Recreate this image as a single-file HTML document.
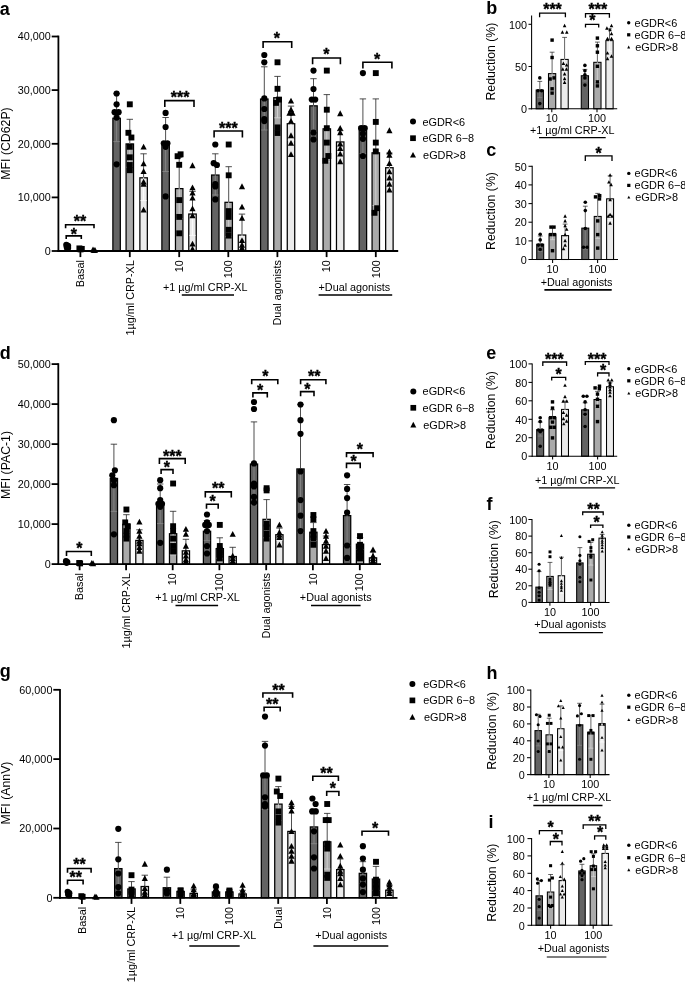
<!DOCTYPE html>
<html lang="en"><head><meta charset="utf-8"><title>Figure</title>
<style>html,body{margin:0;padding:0;background:#fff}svg{display:block}text{font-family:"Liberation Sans", Arial, Helvetica, sans-serif}</style>
</head><body>
<svg width="685" height="990" viewBox="0 0 685 990" font-family='"Liberation Sans", Arial, Helvetica, sans-serif' fill="#000">
<rect width="685" height="990" fill="#fff"/>
<rect x="112.88" y="118.22" width="7.45" height="132.78" fill="#636363" stroke="#000" stroke-width="1.25"/>
<rect x="126.08" y="143.93" width="7.45" height="107.07" fill="#aaaaaa" stroke="#000" stroke-width="1.25"/>
<rect x="139.88" y="177.82" width="7.45" height="73.18" fill="#ebebeb" stroke="#000" stroke-width="1.25"/>
<rect x="161.88" y="145.12" width="7.45" height="105.88" fill="#636363" stroke="#000" stroke-width="1.25"/>
<rect x="175.47" y="188.62" width="7.45" height="62.38" fill="#aaaaaa" stroke="#000" stroke-width="1.25"/>
<rect x="188.78" y="214.03" width="7.45" height="36.97" fill="#ebebeb" stroke="#000" stroke-width="1.25"/>
<rect x="211.58" y="175.03" width="7.45" height="75.97" fill="#636363" stroke="#000" stroke-width="1.25"/>
<rect x="224.97" y="202.32" width="7.45" height="48.68" fill="#aaaaaa" stroke="#000" stroke-width="1.25"/>
<rect x="238.28" y="235.03" width="7.45" height="15.97" fill="#ebebeb" stroke="#000" stroke-width="1.25"/>
<rect x="260.57" y="99.03" width="7.45" height="151.97" fill="#636363" stroke="#000" stroke-width="1.25"/>
<rect x="273.77" y="97.72" width="7.45" height="153.28" fill="#aaaaaa" stroke="#000" stroke-width="1.25"/>
<rect x="287.27" y="123.72" width="7.45" height="127.28" fill="#ebebeb" stroke="#000" stroke-width="1.25"/>
<rect x="309.77" y="105.83" width="7.45" height="145.18" fill="#636363" stroke="#000" stroke-width="1.25"/>
<rect x="323.07" y="128.82" width="7.45" height="122.18" fill="#aaaaaa" stroke="#000" stroke-width="1.25"/>
<rect x="336.47" y="141.93" width="7.45" height="109.07" fill="#ebebeb" stroke="#000" stroke-width="1.25"/>
<rect x="359.17" y="126.83" width="7.45" height="124.17" fill="#636363" stroke="#000" stroke-width="1.25"/>
<rect x="372.07" y="152.82" width="7.45" height="98.18" fill="#aaaaaa" stroke="#000" stroke-width="1.25"/>
<rect x="385.67" y="167.72" width="7.45" height="83.28" fill="#ebebeb" stroke="#000" stroke-width="1.25"/>
<line x1="116.6" y1="117.6" x2="116.6" y2="141.6" stroke="#8a8a8a" stroke-width="0.8" stroke-linecap="butt"/>
<line x1="113.4" y1="141.6" x2="119.8" y2="141.6" stroke="#8a8a8a" stroke-width="0.8" stroke-linecap="butt"/>
<line x1="116.6" y1="93.6" x2="116.6" y2="117.6" stroke="#222" stroke-width="0.8" stroke-linecap="butt"/>
<line x1="113.4" y1="93.6" x2="119.8" y2="93.6" stroke="#222" stroke-width="0.8" stroke-linecap="butt"/>
<line x1="129.8" y1="143.3" x2="129.8" y2="167.3" stroke="#d8d8d8" stroke-width="0.8" stroke-linecap="butt"/>
<line x1="126.6" y1="167.3" x2="133" y2="167.3" stroke="#d8d8d8" stroke-width="0.8" stroke-linecap="butt"/>
<line x1="129.8" y1="119.3" x2="129.8" y2="143.3" stroke="#222" stroke-width="0.8" stroke-linecap="butt"/>
<line x1="126.6" y1="119.3" x2="133" y2="119.3" stroke="#222" stroke-width="0.8" stroke-linecap="butt"/>
<line x1="143.6" y1="177.2" x2="143.6" y2="200.6" stroke="#ffffff" stroke-width="0.8" stroke-linecap="butt"/>
<line x1="140.4" y1="200.6" x2="146.8" y2="200.6" stroke="#ffffff" stroke-width="0.8" stroke-linecap="butt"/>
<line x1="143.6" y1="153.8" x2="143.6" y2="177.2" stroke="#222" stroke-width="0.8" stroke-linecap="butt"/>
<line x1="140.4" y1="153.8" x2="146.8" y2="153.8" stroke="#222" stroke-width="0.8" stroke-linecap="butt"/>
<line x1="165.6" y1="144.5" x2="165.6" y2="171.5" stroke="#8a8a8a" stroke-width="0.8" stroke-linecap="butt"/>
<line x1="162.4" y1="171.5" x2="168.8" y2="171.5" stroke="#8a8a8a" stroke-width="0.8" stroke-linecap="butt"/>
<line x1="165.6" y1="117.5" x2="165.6" y2="144.5" stroke="#222" stroke-width="0.8" stroke-linecap="butt"/>
<line x1="162.4" y1="117.5" x2="168.8" y2="117.5" stroke="#222" stroke-width="0.8" stroke-linecap="butt"/>
<line x1="179.2" y1="188" x2="179.2" y2="218.7" stroke="#d8d8d8" stroke-width="0.8" stroke-linecap="butt"/>
<line x1="176" y1="218.7" x2="182.4" y2="218.7" stroke="#d8d8d8" stroke-width="0.8" stroke-linecap="butt"/>
<line x1="179.2" y1="157.3" x2="179.2" y2="188" stroke="#222" stroke-width="0.8" stroke-linecap="butt"/>
<line x1="176" y1="157.3" x2="182.4" y2="157.3" stroke="#222" stroke-width="0.8" stroke-linecap="butt"/>
<line x1="192.5" y1="213.4" x2="192.5" y2="235.4" stroke="#ffffff" stroke-width="0.8" stroke-linecap="butt"/>
<line x1="189.3" y1="235.4" x2="195.7" y2="235.4" stroke="#ffffff" stroke-width="0.8" stroke-linecap="butt"/>
<line x1="192.5" y1="191.4" x2="192.5" y2="213.4" stroke="#222" stroke-width="0.8" stroke-linecap="butt"/>
<line x1="189.3" y1="191.4" x2="195.7" y2="191.4" stroke="#222" stroke-width="0.8" stroke-linecap="butt"/>
<line x1="215.3" y1="174.4" x2="215.3" y2="195" stroke="#8a8a8a" stroke-width="0.8" stroke-linecap="butt"/>
<line x1="212.1" y1="195" x2="218.5" y2="195" stroke="#8a8a8a" stroke-width="0.8" stroke-linecap="butt"/>
<line x1="215.3" y1="153.8" x2="215.3" y2="174.4" stroke="#222" stroke-width="0.8" stroke-linecap="butt"/>
<line x1="212.1" y1="153.8" x2="218.5" y2="153.8" stroke="#222" stroke-width="0.8" stroke-linecap="butt"/>
<line x1="228.7" y1="201.7" x2="228.7" y2="236.7" stroke="#d8d8d8" stroke-width="0.8" stroke-linecap="butt"/>
<line x1="225.5" y1="236.7" x2="231.9" y2="236.7" stroke="#d8d8d8" stroke-width="0.8" stroke-linecap="butt"/>
<line x1="228.7" y1="166.7" x2="228.7" y2="201.7" stroke="#222" stroke-width="0.8" stroke-linecap="butt"/>
<line x1="225.5" y1="166.7" x2="231.9" y2="166.7" stroke="#222" stroke-width="0.8" stroke-linecap="butt"/>
<line x1="242" y1="234.4" x2="242" y2="250" stroke="#ffffff" stroke-width="0.8" stroke-linecap="butt"/>
<line x1="242" y1="214.1" x2="242" y2="234.4" stroke="#222" stroke-width="0.8" stroke-linecap="butt"/>
<line x1="238.8" y1="214.1" x2="245.2" y2="214.1" stroke="#222" stroke-width="0.8" stroke-linecap="butt"/>
<line x1="264.3" y1="98.4" x2="264.3" y2="130" stroke="#8a8a8a" stroke-width="0.8" stroke-linecap="butt"/>
<line x1="261.1" y1="130" x2="267.5" y2="130" stroke="#8a8a8a" stroke-width="0.8" stroke-linecap="butt"/>
<line x1="264.3" y1="66.8" x2="264.3" y2="98.4" stroke="#222" stroke-width="0.8" stroke-linecap="butt"/>
<line x1="261.1" y1="66.8" x2="267.5" y2="66.8" stroke="#222" stroke-width="0.8" stroke-linecap="butt"/>
<line x1="277.5" y1="97.1" x2="277.5" y2="117.8" stroke="#d8d8d8" stroke-width="0.8" stroke-linecap="butt"/>
<line x1="274.3" y1="117.8" x2="280.7" y2="117.8" stroke="#d8d8d8" stroke-width="0.8" stroke-linecap="butt"/>
<line x1="277.5" y1="76.4" x2="277.5" y2="97.1" stroke="#222" stroke-width="0.8" stroke-linecap="butt"/>
<line x1="274.3" y1="76.4" x2="280.7" y2="76.4" stroke="#222" stroke-width="0.8" stroke-linecap="butt"/>
<line x1="291" y1="123.1" x2="291" y2="140.1" stroke="#ffffff" stroke-width="0.8" stroke-linecap="butt"/>
<line x1="287.8" y1="140.1" x2="294.2" y2="140.1" stroke="#ffffff" stroke-width="0.8" stroke-linecap="butt"/>
<line x1="291" y1="106.1" x2="291" y2="123.1" stroke="#222" stroke-width="0.8" stroke-linecap="butt"/>
<line x1="287.8" y1="106.1" x2="294.2" y2="106.1" stroke="#222" stroke-width="0.8" stroke-linecap="butt"/>
<line x1="313.5" y1="105.2" x2="313.5" y2="131.7" stroke="#8a8a8a" stroke-width="0.8" stroke-linecap="butt"/>
<line x1="310.3" y1="131.7" x2="316.7" y2="131.7" stroke="#8a8a8a" stroke-width="0.8" stroke-linecap="butt"/>
<line x1="313.5" y1="78.7" x2="313.5" y2="105.2" stroke="#222" stroke-width="0.8" stroke-linecap="butt"/>
<line x1="310.3" y1="78.7" x2="316.7" y2="78.7" stroke="#222" stroke-width="0.8" stroke-linecap="butt"/>
<line x1="326.8" y1="128.2" x2="326.8" y2="161.8" stroke="#d8d8d8" stroke-width="0.8" stroke-linecap="butt"/>
<line x1="323.6" y1="161.8" x2="330" y2="161.8" stroke="#d8d8d8" stroke-width="0.8" stroke-linecap="butt"/>
<line x1="326.8" y1="94.6" x2="326.8" y2="128.2" stroke="#222" stroke-width="0.8" stroke-linecap="butt"/>
<line x1="323.6" y1="94.6" x2="330" y2="94.6" stroke="#222" stroke-width="0.8" stroke-linecap="butt"/>
<line x1="340.2" y1="141.3" x2="340.2" y2="151.9" stroke="#ffffff" stroke-width="0.8" stroke-linecap="butt"/>
<line x1="337" y1="151.9" x2="343.4" y2="151.9" stroke="#ffffff" stroke-width="0.8" stroke-linecap="butt"/>
<line x1="340.2" y1="130.7" x2="340.2" y2="141.3" stroke="#222" stroke-width="0.8" stroke-linecap="butt"/>
<line x1="337" y1="130.7" x2="343.4" y2="130.7" stroke="#222" stroke-width="0.8" stroke-linecap="butt"/>
<line x1="362.9" y1="126.2" x2="362.9" y2="153.5" stroke="#8a8a8a" stroke-width="0.8" stroke-linecap="butt"/>
<line x1="359.7" y1="153.5" x2="366.1" y2="153.5" stroke="#8a8a8a" stroke-width="0.8" stroke-linecap="butt"/>
<line x1="362.9" y1="98.9" x2="362.9" y2="126.2" stroke="#222" stroke-width="0.8" stroke-linecap="butt"/>
<line x1="359.7" y1="98.9" x2="366.1" y2="98.9" stroke="#222" stroke-width="0.8" stroke-linecap="butt"/>
<line x1="375.8" y1="152.2" x2="375.8" y2="205.5" stroke="#d8d8d8" stroke-width="0.8" stroke-linecap="butt"/>
<line x1="372.6" y1="205.5" x2="379" y2="205.5" stroke="#d8d8d8" stroke-width="0.8" stroke-linecap="butt"/>
<line x1="375.8" y1="98.9" x2="375.8" y2="152.2" stroke="#222" stroke-width="0.8" stroke-linecap="butt"/>
<line x1="372.6" y1="98.9" x2="379" y2="98.9" stroke="#222" stroke-width="0.8" stroke-linecap="butt"/>
<line x1="389.4" y1="167.1" x2="389.4" y2="181.1" stroke="#ffffff" stroke-width="0.8" stroke-linecap="butt"/>
<line x1="386.2" y1="181.1" x2="392.6" y2="181.1" stroke="#ffffff" stroke-width="0.8" stroke-linecap="butt"/>
<line x1="389.4" y1="153.1" x2="389.4" y2="167.1" stroke="#222" stroke-width="0.8" stroke-linecap="butt"/>
<line x1="386.2" y1="153.1" x2="392.6" y2="153.1" stroke="#222" stroke-width="0.8" stroke-linecap="butt"/>
<g fill="#000">
<circle cx="66.3" cy="244.8" r="3.1"/>
<circle cx="68.1" cy="245.8" r="3.1"/>
<circle cx="66.7" cy="247" r="3.1"/>
<circle cx="68.1" cy="248" r="3.1"/>
<circle cx="67.2" cy="248.6" r="3.1"/>
<rect x="76.45" y="245.46" width="5.89" height="5.89"/>
<rect x="78.86" y="245.96" width="5.89" height="5.89"/>
<rect x="77.66" y="246.46" width="5.89" height="5.89"/>
<path d="M93 246.54L96.1 252.37L89.9 252.37Z"/>
<path d="M95 246.94L98.1 252.77L91.9 252.77Z"/>
<path d="M94 247.24L97.1 253.07L90.9 253.07Z"/>
<circle cx="116.6" cy="93.5" r="3.1"/>
<circle cx="116.6" cy="104.3" r="3.1"/>
<circle cx="114.6" cy="112.2" r="3.1"/>
<circle cx="118.6" cy="112.2" r="3.1"/>
<circle cx="116.6" cy="117.6" r="3.1"/>
<circle cx="116.6" cy="164.3" r="3.1"/>
<rect x="126.86" y="101.36" width="5.89" height="5.89"/>
<rect x="125.46" y="129.86" width="5.89" height="5.89"/>
<rect x="128.46" y="134.56" width="5.89" height="5.89"/>
<rect x="126.86" y="143.86" width="5.89" height="5.89"/>
<rect x="126.86" y="154.36" width="5.89" height="5.89"/>
<rect x="126.86" y="162.06" width="5.89" height="5.89"/>
<rect x="126.86" y="167.25" width="5.89" height="5.89"/>
<path d="M143.6 143.64L146.7 149.47L140.5 149.47Z"/>
<path d="M143.6 160.44L146.7 166.27L140.5 166.27Z"/>
<path d="M143.6 168.24L146.7 174.07L140.5 174.07Z"/>
<path d="M143.6 178.74L146.7 184.57L140.5 184.57Z"/>
<path d="M143.6 181.04L146.7 186.87L140.5 186.87Z"/>
<path d="M143.6 206.74L146.7 212.57L140.5 212.57Z"/>
<circle cx="165.6" cy="112.9" r="3.1"/>
<circle cx="165.6" cy="127" r="3.1"/>
<circle cx="163.8" cy="143.3" r="3.1"/>
<circle cx="167.4" cy="143.3" r="3.1"/>
<circle cx="165.6" cy="146.8" r="3.1"/>
<circle cx="165.6" cy="196.4" r="3.1"/>
<rect x="177.66" y="151.36" width="5.89" height="5.89"/>
<rect x="174.66" y="153.25" width="5.89" height="5.89"/>
<rect x="176.25" y="161.86" width="5.89" height="5.89"/>
<rect x="176.25" y="197.16" width="5.89" height="5.89"/>
<rect x="176.25" y="213.96" width="5.89" height="5.89"/>
<rect x="176.25" y="230.36" width="5.89" height="5.89"/>
<path d="M192.5 162.34L195.6 168.17L189.4 168.17Z"/>
<path d="M192.5 184.54L195.6 190.37L189.4 190.37Z"/>
<path d="M192.5 189.74L195.6 195.57L189.4 195.57Z"/>
<path d="M192.5 194.64L195.6 200.47L189.4 200.47Z"/>
<path d="M192.5 205.54L195.6 211.37L189.4 211.37Z"/>
<path d="M192.5 212.54L195.6 218.37L189.4 218.37Z"/>
<path d="M192.5 240.64L195.6 246.47L189.4 246.47Z"/>
<path d="M192.5 245.84L195.6 251.67L189.4 251.67Z"/>
<circle cx="215.3" cy="144.5" r="3.1"/>
<circle cx="213.7" cy="163.2" r="3.1"/>
<circle cx="216.9" cy="165" r="3.1"/>
<circle cx="215.3" cy="184.2" r="3.1"/>
<circle cx="215.3" cy="186.5" r="3.1"/>
<circle cx="215.3" cy="199.4" r="3.1"/>
<rect x="225.75" y="141.56" width="5.89" height="5.89"/>
<rect x="225.75" y="172.36" width="5.89" height="5.89"/>
<rect x="225.75" y="208.16" width="5.89" height="5.89"/>
<rect x="225.75" y="213.96" width="5.89" height="5.89"/>
<rect x="225.75" y="226.86" width="5.89" height="5.89"/>
<rect x="225.75" y="232.66" width="5.89" height="5.89"/>
<path d="M242 183.34L245.1 189.17L238.9 189.17Z"/>
<path d="M242 203.74L245.1 209.57L238.9 209.57Z"/>
<path d="M242 214.94L245.1 220.77L238.9 220.77Z"/>
<path d="M242 237.14L245.1 242.97L238.9 242.97Z"/>
<path d="M242 241.84L245.1 247.67L238.9 247.67Z"/>
<path d="M242 244.84L245.1 250.67L238.9 250.67Z"/>
<path d="M242 245.84L245.1 251.67L238.9 251.67Z"/>
<circle cx="264.3" cy="55" r="3.1"/>
<circle cx="264.3" cy="62.3" r="3.1"/>
<circle cx="264.3" cy="98.4" r="3.1"/>
<circle cx="264.3" cy="109" r="3.1"/>
<circle cx="264.3" cy="119.1" r="3.1"/>
<circle cx="264.3" cy="121.1" r="3.1"/>
<rect x="274.56" y="59.35" width="5.89" height="5.89"/>
<rect x="274.56" y="85.86" width="5.89" height="5.89"/>
<rect x="276.06" y="96.66" width="5.89" height="5.89"/>
<rect x="273.06" y="99.96" width="5.89" height="5.89"/>
<rect x="274.56" y="124.46" width="5.89" height="5.89"/>
<rect x="274.56" y="130.06" width="5.89" height="5.89"/>
<path d="M291 97.74L294.1 103.57L287.9 103.57Z"/>
<path d="M291 106.54L294.1 112.37L287.9 112.37Z"/>
<path d="M289.5 109.84L292.6 115.67L286.4 115.67Z"/>
<path d="M292.5 109.84L295.6 115.67L289.4 115.67Z"/>
<path d="M291 117.94L294.1 123.77L287.9 123.77Z"/>
<path d="M291 132.34L294.1 138.17L287.9 138.17Z"/>
<path d="M291 139.94L294.1 145.77L287.9 145.77Z"/>
<path d="M291 151.24L294.1 157.07L287.9 157.07Z"/>
<circle cx="313.5" cy="70.6" r="3.1"/>
<circle cx="313.5" cy="89" r="3.1"/>
<circle cx="311.8" cy="99.6" r="3.1"/>
<circle cx="315.2" cy="99.6" r="3.1"/>
<circle cx="313.5" cy="132.5" r="3.1"/>
<circle cx="313.5" cy="139.5" r="3.1"/>
<rect x="323.86" y="67.66" width="5.89" height="5.89"/>
<rect x="323.86" y="106.76" width="5.89" height="5.89"/>
<rect x="323.86" y="125.25" width="5.89" height="5.89"/>
<rect x="323.86" y="139.66" width="5.89" height="5.89"/>
<rect x="325.36" y="153.06" width="5.89" height="5.89"/>
<rect x="322.36" y="157.86" width="5.89" height="5.89"/>
<path d="M340.2 110.34L343.3 116.17L337.1 116.17Z"/>
<path d="M340.2 125.04L343.3 130.87L337.1 130.87Z"/>
<path d="M340.2 129.34L343.3 135.17L337.1 135.17Z"/>
<path d="M340.2 140.64L343.3 146.47L337.1 146.47Z"/>
<path d="M340.2 145.24L343.3 151.07L337.1 151.07Z"/>
<path d="M340.2 150.74L343.3 156.57L337.1 156.57Z"/>
<path d="M340.2 158.34L343.3 164.17L337.1 164.17Z"/>
<circle cx="362.9" cy="73.1" r="3.1"/>
<circle cx="361.2" cy="128.2" r="3.1"/>
<circle cx="364.6" cy="128.2" r="3.1"/>
<circle cx="362.9" cy="133.7" r="3.1"/>
<circle cx="362.9" cy="138.8" r="3.1"/>
<circle cx="362.9" cy="156" r="3.1"/>
<rect x="372.86" y="70.16" width="5.89" height="5.89"/>
<rect x="372.86" y="118.96" width="5.89" height="5.89"/>
<rect x="372.86" y="139.66" width="5.89" height="5.89"/>
<rect x="372.86" y="148.46" width="5.89" height="5.89"/>
<rect x="374.16" y="205.25" width="5.89" height="5.89"/>
<rect x="371.56" y="209.86" width="5.89" height="5.89"/>
<path d="M389.4 127.34L392.5 133.17L386.3 133.17Z"/>
<path d="M389.4 148.74L392.5 154.57L386.3 154.57Z"/>
<path d="M389.4 152.04L392.5 157.87L386.3 157.87Z"/>
<path d="M389.4 160.14L392.5 165.97L386.3 165.97Z"/>
<path d="M389.4 168.44L392.5 174.27L386.3 174.27Z"/>
<path d="M389.4 174.74L392.5 180.57L386.3 180.57Z"/>
<path d="M389.4 181.04L392.5 186.87L386.3 186.87Z"/>
<path d="M389.4 186.64L392.5 192.47L386.3 192.47Z"/>
</g>
<line x1="58.4" y1="35.6" x2="58.4" y2="251.9" stroke="#000" stroke-width="1.8" stroke-linecap="butt"/>
<line x1="57.5" y1="251" x2="398.2" y2="251" stroke="#000" stroke-width="1.8" stroke-linecap="butt"/>
<line x1="51.7" y1="251" x2="58.4" y2="251" stroke="#000" stroke-width="1.8" stroke-linecap="butt"/>
<text x="50.8" y="254.9" font-size="10.8" text-anchor="end">0</text>
<line x1="51.7" y1="197.4" x2="58.4" y2="197.4" stroke="#000" stroke-width="1.8" stroke-linecap="butt"/>
<text x="50.8" y="201.3" font-size="10.8" text-anchor="end">10,000</text>
<line x1="51.7" y1="143.8" x2="58.4" y2="143.8" stroke="#000" stroke-width="1.8" stroke-linecap="butt"/>
<text x="50.8" y="147.7" font-size="10.8" text-anchor="end">20,000</text>
<line x1="51.7" y1="90.1" x2="58.4" y2="90.1" stroke="#000" stroke-width="1.8" stroke-linecap="butt"/>
<text x="50.8" y="94" font-size="10.8" text-anchor="end">30,000</text>
<line x1="51.7" y1="36.5" x2="58.4" y2="36.5" stroke="#000" stroke-width="1.8" stroke-linecap="butt"/>
<text x="50.8" y="40.4" font-size="10.8" text-anchor="end">40,000</text>
<line x1="80.4" y1="251" x2="80.4" y2="257.1" stroke="#000" stroke-width="1.8" stroke-linecap="butt"/>
<line x1="129.8" y1="251" x2="129.8" y2="257.1" stroke="#000" stroke-width="1.8" stroke-linecap="butt"/>
<line x1="179.2" y1="251" x2="179.2" y2="257.1" stroke="#000" stroke-width="1.8" stroke-linecap="butt"/>
<line x1="228.3" y1="251" x2="228.3" y2="257.1" stroke="#000" stroke-width="1.8" stroke-linecap="butt"/>
<line x1="277.4" y1="251" x2="277.4" y2="257.1" stroke="#000" stroke-width="1.8" stroke-linecap="butt"/>
<line x1="326.6" y1="251" x2="326.6" y2="257.1" stroke="#000" stroke-width="1.8" stroke-linecap="butt"/>
<line x1="375.8" y1="251" x2="375.8" y2="257.1" stroke="#000" stroke-width="1.8" stroke-linecap="butt"/>
<path d="M65.6 228.3V224.7H94V228.3" fill="none" stroke="#000" stroke-width="1.6"/>
<text x="80.1" y="227.22" font-size="16" text-anchor="middle" font-weight="bold" stroke="#000" stroke-width="0.35">**</text>
<path d="M66.2 238.9V235.9H81.3V238.9" fill="none" stroke="#000" stroke-width="1.6"/>
<text x="73.8" y="239.52" font-size="16" text-anchor="middle" font-weight="bold" stroke="#000" stroke-width="0.35">*</text>
<path d="M164.8 107V100.6H194V107" fill="none" stroke="#000" stroke-width="1.6"/>
<text x="180.2" y="103.22" font-size="16" text-anchor="middle" font-weight="bold" stroke="#000" stroke-width="0.35">***</text>
<path d="M214.1 137.4V131H242.4V137.4" fill="none" stroke="#000" stroke-width="1.6"/>
<text x="228.4" y="133.62" font-size="16" text-anchor="middle" font-weight="bold" stroke="#000" stroke-width="0.35">***</text>
<path d="M263.1 48V41.8H291.7V48" fill="none" stroke="#000" stroke-width="1.6"/>
<text x="276.8" y="44.02" font-size="16" text-anchor="middle" font-weight="bold" stroke="#000" stroke-width="0.35">*</text>
<path d="M312.6 64.3V58H340.4V64.3" fill="none" stroke="#000" stroke-width="1.6"/>
<text x="326.3" y="60.42" font-size="16" text-anchor="middle" font-weight="bold" stroke="#000" stroke-width="0.35">*</text>
<path d="M362.9 68.6V62.3H391.9V68.6" fill="none" stroke="#000" stroke-width="1.6"/>
<text x="377" y="64.62" font-size="16" text-anchor="middle" font-weight="bold" stroke="#000" stroke-width="0.35">*</text>
<text x="9.6" y="143.5" font-size="12.3" text-anchor="middle" transform="rotate(-90 9.6 143.5)">MFI (CD62P)</text>
<text x="-0.3" y="14.6" font-size="18" font-weight="bold">a</text>
<g fill="#000">
<circle cx="413" cy="121.6" r="3"/>
<rect x="410.15" y="135.35" width="5.7" height="5.7"/>
<path d="M413 151.94L416 157.58L410 157.58Z"/>
</g>
<text x="422.4" y="125.5" font-size="10.9">eGDR&lt;6</text>
<text x="422.4" y="142.1" font-size="10.9">eGDR 6−8</text>
<text x="423.1" y="158.9" font-size="10.9">eGDR&gt;8</text>
<text x="84.3" y="260.2" font-size="10.8" text-anchor="end" transform="rotate(-90 84.3 260.2)">Basal</text>
<text x="133.7" y="260.2" font-size="10.8" text-anchor="end" transform="rotate(-90 133.7 260.2)">1µg/ml CRP-XL</text>
<text x="183.1" y="260.2" font-size="10.8" text-anchor="end" transform="rotate(-90 183.1 260.2)">10</text>
<text x="232.2" y="260.2" font-size="10.8" text-anchor="end" transform="rotate(-90 232.2 260.2)">100</text>
<text x="281" y="260.2" font-size="10.8" text-anchor="end" transform="rotate(-90 281 260.2)">Dual agonists</text>
<text x="330.4" y="260.2" font-size="10.8" text-anchor="end" transform="rotate(-90 330.4 260.2)">10</text>
<text x="379.6" y="260.2" font-size="10.8" text-anchor="end" transform="rotate(-90 379.6 260.2)">100</text>
<text x="205.2" y="291.1" font-size="10.8" text-anchor="middle">+1 µg/ml CRP-XL</text>
<line x1="181.8" y1="294.9" x2="234" y2="294.9" stroke="#000" stroke-width="1.5" stroke-linecap="butt"/>
<text x="354.4" y="291.1" font-size="10.8" text-anchor="middle">+Dual agonists</text>
<line x1="318.6" y1="294.9" x2="392.2" y2="294.9" stroke="#000" stroke-width="1.5" stroke-linecap="butt"/>
<rect x="536.17" y="90.03" width="7.25" height="18.77" fill="#636363" stroke="#000" stroke-width="1.05"/>
<rect x="548.48" y="73.62" width="7.25" height="35.18" fill="#aaaaaa" stroke="#000" stroke-width="1.05"/>
<rect x="560.98" y="59.42" width="7.25" height="49.38" fill="#ebebeb" stroke="#000" stroke-width="1.05"/>
<rect x="581.27" y="75.73" width="7.25" height="33.07" fill="#636363" stroke="#000" stroke-width="1.05"/>
<rect x="593.77" y="62.32" width="7.25" height="46.48" fill="#aaaaaa" stroke="#000" stroke-width="1.05"/>
<rect x="605.88" y="40.62" width="7.25" height="68.17" fill="#ebebeb" stroke="#000" stroke-width="1.05"/>
<line x1="539.8" y1="89.5" x2="539.8" y2="97.6" stroke="#8a8a8a" stroke-width="0.7" stroke-linecap="butt"/>
<line x1="537.4" y1="97.6" x2="542.2" y2="97.6" stroke="#8a8a8a" stroke-width="0.7" stroke-linecap="butt"/>
<line x1="539.8" y1="81.4" x2="539.8" y2="89.5" stroke="#222" stroke-width="0.7" stroke-linecap="butt"/>
<line x1="537.4" y1="81.4" x2="542.2" y2="81.4" stroke="#222" stroke-width="0.7" stroke-linecap="butt"/>
<line x1="552.1" y1="73.1" x2="552.1" y2="94" stroke="#d8d8d8" stroke-width="0.7" stroke-linecap="butt"/>
<line x1="549.7" y1="94" x2="554.5" y2="94" stroke="#d8d8d8" stroke-width="0.7" stroke-linecap="butt"/>
<line x1="552.1" y1="52.2" x2="552.1" y2="73.1" stroke="#222" stroke-width="0.7" stroke-linecap="butt"/>
<line x1="549.7" y1="52.2" x2="554.5" y2="52.2" stroke="#222" stroke-width="0.7" stroke-linecap="butt"/>
<line x1="564.6" y1="58.9" x2="564.6" y2="80.4" stroke="#ffffff" stroke-width="0.7" stroke-linecap="butt"/>
<line x1="562.2" y1="80.4" x2="567" y2="80.4" stroke="#ffffff" stroke-width="0.7" stroke-linecap="butt"/>
<line x1="564.6" y1="37.4" x2="564.6" y2="58.9" stroke="#222" stroke-width="0.7" stroke-linecap="butt"/>
<line x1="562.2" y1="37.4" x2="567" y2="37.4" stroke="#222" stroke-width="0.7" stroke-linecap="butt"/>
<line x1="584.9" y1="75.2" x2="584.9" y2="81" stroke="#8a8a8a" stroke-width="0.7" stroke-linecap="butt"/>
<line x1="582.5" y1="81" x2="587.3" y2="81" stroke="#8a8a8a" stroke-width="0.7" stroke-linecap="butt"/>
<line x1="584.9" y1="69.4" x2="584.9" y2="75.2" stroke="#222" stroke-width="0.7" stroke-linecap="butt"/>
<line x1="582.5" y1="69.4" x2="587.3" y2="69.4" stroke="#222" stroke-width="0.7" stroke-linecap="butt"/>
<line x1="597.4" y1="61.8" x2="597.4" y2="81.5" stroke="#d8d8d8" stroke-width="0.7" stroke-linecap="butt"/>
<line x1="595" y1="81.5" x2="599.8" y2="81.5" stroke="#d8d8d8" stroke-width="0.7" stroke-linecap="butt"/>
<line x1="597.4" y1="42.1" x2="597.4" y2="61.8" stroke="#222" stroke-width="0.7" stroke-linecap="butt"/>
<line x1="595" y1="42.1" x2="599.8" y2="42.1" stroke="#222" stroke-width="0.7" stroke-linecap="butt"/>
<line x1="609.5" y1="40.1" x2="609.5" y2="51.3" stroke="#ffffff" stroke-width="0.7" stroke-linecap="butt"/>
<line x1="607.1" y1="51.3" x2="611.9" y2="51.3" stroke="#ffffff" stroke-width="0.7" stroke-linecap="butt"/>
<line x1="609.5" y1="28.9" x2="609.5" y2="40.1" stroke="#222" stroke-width="0.7" stroke-linecap="butt"/>
<line x1="607.1" y1="28.9" x2="611.9" y2="28.9" stroke="#222" stroke-width="0.7" stroke-linecap="butt"/>
<g fill="#000">
<circle cx="539.8" cy="77.9" r="1.8"/>
<circle cx="538" cy="90.7" r="1.8"/>
<circle cx="541.6" cy="90.7" r="1.8"/>
<circle cx="539.8" cy="103.6" r="1.8"/>
<rect x="550.39" y="38.39" width="3.42" height="3.42"/>
<rect x="550.39" y="55.79" width="3.42" height="3.42"/>
<rect x="552.39" y="76.19" width="3.42" height="3.42"/>
<rect x="548.39" y="77.29" width="3.42" height="3.42"/>
<rect x="550.39" y="87.09" width="3.42" height="3.42"/>
<rect x="550.39" y="91.39" width="3.42" height="3.42"/>
<path d="M564.6 23.86L566.4 27.25L562.8 27.25Z"/>
<path d="M562.4 30.26L564.2 33.65L560.6 33.65Z"/>
<path d="M566.8 30.26L568.6 33.65L565 33.65Z"/>
<path d="M563.4 61.56L565.2 64.95L561.6 64.95Z"/>
<path d="M566.6 63.16L568.4 66.55L564.8 66.55Z"/>
<path d="M562.8 67.26L564.6 70.65L561 70.65Z"/>
<path d="M566.4 67.26L568.2 70.65L564.6 70.65Z"/>
<path d="M564.6 72.06L566.4 75.45L562.8 75.45Z"/>
<path d="M564.6 76.86L566.4 80.25L562.8 80.25Z"/>
<path d="M564.6 80.56L566.4 83.95L562.8 83.95Z"/>
<circle cx="584.9" cy="65.4" r="1.8"/>
<circle cx="584.9" cy="70.7" r="1.8"/>
<circle cx="584.9" cy="74.7" r="1.8"/>
<circle cx="584.9" cy="77.9" r="1.8"/>
<circle cx="584.9" cy="85.1" r="1.8"/>
<rect x="595.69" y="36.39" width="3.42" height="3.42"/>
<rect x="595.69" y="44.09" width="3.42" height="3.42"/>
<rect x="595.69" y="50.49" width="3.42" height="3.42"/>
<rect x="595.69" y="64.59" width="3.42" height="3.42"/>
<rect x="595.69" y="80.19" width="3.42" height="3.42"/>
<rect x="595.69" y="84.19" width="3.42" height="3.42"/>
<path d="M611.5 23.86L613.3 27.25L609.7 27.25Z"/>
<path d="M606.9 26.26L608.7 29.65L605.1 29.65Z"/>
<path d="M610 27.86L611.8 31.25L608.2 31.25Z"/>
<path d="M611.5 31.86L613.3 35.25L609.7 35.25Z"/>
<path d="M607.5 36.66L609.3 40.05L605.7 40.05Z"/>
<path d="M611.5 36.66L613.3 40.05L609.7 40.05Z"/>
<path d="M607.5 51.16L609.3 54.55L605.7 54.55Z"/>
<path d="M611.5 54.36L613.3 57.75L609.7 57.75Z"/>
<path d="M607.5 56.76L609.3 60.15L605.7 60.15Z"/>
</g>
<line x1="531.6" y1="15.47" x2="531.6" y2="109.33" stroke="#000" stroke-width="1.05" stroke-linecap="butt"/>
<line x1="531.08" y1="108.8" x2="617.2" y2="108.8" stroke="#000" stroke-width="1.05" stroke-linecap="butt"/>
<line x1="528.48" y1="108.8" x2="531.6" y2="108.8" stroke="#000" stroke-width="1.05" stroke-linecap="butt"/>
<text x="527.08" y="113" font-size="10.8" text-anchor="end">0</text>
<line x1="528.48" y1="66.5" x2="531.6" y2="66.5" stroke="#000" stroke-width="1.05" stroke-linecap="butt"/>
<text x="527.08" y="70.7" font-size="10.8" text-anchor="end">50</text>
<line x1="528.48" y1="24.3" x2="531.6" y2="24.3" stroke="#000" stroke-width="1.05" stroke-linecap="butt"/>
<text x="527.08" y="28.5" font-size="10.8" text-anchor="end">100</text>
<line x1="551.8" y1="108.8" x2="551.8" y2="112.23" stroke="#000" stroke-width="1.05" stroke-linecap="butt"/>
<line x1="597" y1="108.8" x2="597" y2="112.23" stroke="#000" stroke-width="1.05" stroke-linecap="butt"/>
<path d="M539.6 17.2V13.2H565.4V17.2" fill="none" stroke="#000" stroke-width="1.3"/>
<text x="552.5" y="14.52" font-size="16" text-anchor="middle" font-weight="bold" stroke="#000" stroke-width="0.35">***</text>
<path d="M585.5 17.7V13.7H609.4V17.7" fill="none" stroke="#000" stroke-width="1.3"/>
<text x="597.8" y="15.12" font-size="16" text-anchor="middle" font-weight="bold" stroke="#000" stroke-width="0.35">***</text>
<path d="M585.5 27.6V24.4H598.7V27.6" fill="none" stroke="#000" stroke-width="1.3"/>
<text x="592.3" y="26.22" font-size="16" text-anchor="middle" font-weight="bold" stroke="#000" stroke-width="0.35">*</text>
<text x="495.5" y="61.6" font-size="12.3" text-anchor="middle" transform="rotate(-90 495.5 61.6)">Reduction (%)</text>
<text x="486.2" y="14.2" font-size="18" font-weight="bold">b</text>
<g fill="#000">
<circle cx="628.7" cy="22.8" r="1.7"/>
<rect x="627.09" y="33.18" width="3.23" height="3.23"/>
<path d="M628.7 45.54L630.23 48.42L627.17 48.42Z"/>
</g>
<text x="634.6" y="26.7" font-size="10.9">eGDR&lt;6</text>
<text x="634.6" y="38.7" font-size="10.9">eGDR 6−8</text>
<text x="635.3" y="51" font-size="10.9">eGDR&gt;8</text>
<text x="551.8" y="122" font-size="10.8" text-anchor="middle">10</text>
<text x="597" y="122" font-size="10.8" text-anchor="middle">100</text>
<text x="572.2" y="133.5" font-size="10.8" text-anchor="middle">+1 µg/ml CRP-XL</text>
<line x1="539" y1="137.7" x2="605.7" y2="137.7" stroke="#000" stroke-width="1.2" stroke-linecap="butt"/>
<rect x="536.73" y="244.22" width="6.95" height="15.28" fill="#636363" stroke="#000" stroke-width="1.05"/>
<rect x="549.02" y="233.93" width="6.95" height="25.57" fill="#aaaaaa" stroke="#000" stroke-width="1.05"/>
<rect x="561.62" y="235.62" width="6.95" height="23.88" fill="#ebebeb" stroke="#000" stroke-width="1.05"/>
<rect x="581.82" y="228.12" width="6.95" height="31.38" fill="#636363" stroke="#000" stroke-width="1.05"/>
<rect x="594.23" y="216.43" width="6.95" height="43.07" fill="#aaaaaa" stroke="#000" stroke-width="1.05"/>
<rect x="606.62" y="198.83" width="6.95" height="60.67" fill="#ebebeb" stroke="#000" stroke-width="1.05"/>
<line x1="540.2" y1="243.7" x2="540.2" y2="251.4" stroke="#8a8a8a" stroke-width="0.7" stroke-linecap="butt"/>
<line x1="537.8" y1="251.4" x2="542.6" y2="251.4" stroke="#8a8a8a" stroke-width="0.7" stroke-linecap="butt"/>
<line x1="540.2" y1="236" x2="540.2" y2="243.7" stroke="#222" stroke-width="0.7" stroke-linecap="butt"/>
<line x1="537.8" y1="236" x2="542.6" y2="236" stroke="#222" stroke-width="0.7" stroke-linecap="butt"/>
<line x1="552.5" y1="233.4" x2="552.5" y2="239.7" stroke="#d8d8d8" stroke-width="0.7" stroke-linecap="butt"/>
<line x1="550.1" y1="239.7" x2="554.9" y2="239.7" stroke="#d8d8d8" stroke-width="0.7" stroke-linecap="butt"/>
<line x1="552.5" y1="227.1" x2="552.5" y2="233.4" stroke="#222" stroke-width="0.7" stroke-linecap="butt"/>
<line x1="550.1" y1="227.1" x2="554.9" y2="227.1" stroke="#222" stroke-width="0.7" stroke-linecap="butt"/>
<line x1="565.1" y1="235.1" x2="565.1" y2="246.1" stroke="#ffffff" stroke-width="0.7" stroke-linecap="butt"/>
<line x1="562.7" y1="246.1" x2="567.5" y2="246.1" stroke="#ffffff" stroke-width="0.7" stroke-linecap="butt"/>
<line x1="565.1" y1="224.1" x2="565.1" y2="235.1" stroke="#222" stroke-width="0.7" stroke-linecap="butt"/>
<line x1="562.7" y1="224.1" x2="567.5" y2="224.1" stroke="#222" stroke-width="0.7" stroke-linecap="butt"/>
<line x1="585.3" y1="227.6" x2="585.3" y2="249" stroke="#8a8a8a" stroke-width="0.7" stroke-linecap="butt"/>
<line x1="582.9" y1="249" x2="587.7" y2="249" stroke="#8a8a8a" stroke-width="0.7" stroke-linecap="butt"/>
<line x1="585.3" y1="206.2" x2="585.3" y2="227.6" stroke="#222" stroke-width="0.7" stroke-linecap="butt"/>
<line x1="582.9" y1="206.2" x2="587.7" y2="206.2" stroke="#222" stroke-width="0.7" stroke-linecap="butt"/>
<line x1="597.7" y1="215.9" x2="597.7" y2="238.4" stroke="#d8d8d8" stroke-width="0.7" stroke-linecap="butt"/>
<line x1="595.3" y1="238.4" x2="600.1" y2="238.4" stroke="#d8d8d8" stroke-width="0.7" stroke-linecap="butt"/>
<line x1="597.7" y1="193.4" x2="597.7" y2="215.9" stroke="#222" stroke-width="0.7" stroke-linecap="butt"/>
<line x1="595.3" y1="193.4" x2="600.1" y2="193.4" stroke="#222" stroke-width="0.7" stroke-linecap="butt"/>
<line x1="610.1" y1="198.3" x2="610.1" y2="220.7" stroke="#ffffff" stroke-width="0.7" stroke-linecap="butt"/>
<line x1="607.7" y1="220.7" x2="612.5" y2="220.7" stroke="#ffffff" stroke-width="0.7" stroke-linecap="butt"/>
<line x1="610.1" y1="175.9" x2="610.1" y2="198.3" stroke="#222" stroke-width="0.7" stroke-linecap="butt"/>
<line x1="607.7" y1="175.9" x2="612.5" y2="175.9" stroke="#222" stroke-width="0.7" stroke-linecap="butt"/>
<g fill="#000">
<circle cx="540.2" cy="234.3" r="1.8"/>
<circle cx="540.2" cy="239.9" r="1.8"/>
<circle cx="538.4" cy="245.1" r="1.8"/>
<circle cx="542" cy="245.1" r="1.8"/>
<circle cx="540.2" cy="249.5" r="1.8"/>
<rect x="549.29" y="225.39" width="3.42" height="3.42"/>
<rect x="552.29" y="225.39" width="3.42" height="3.42"/>
<rect x="548.99" y="232.89" width="3.42" height="3.42"/>
<rect x="552.59" y="232.89" width="3.42" height="3.42"/>
<rect x="550.79" y="248.99" width="3.42" height="3.42"/>
<path d="M565.1 214.36L566.9 217.75L563.3 217.75Z"/>
<path d="M565.1 219.06L566.9 222.45L563.3 222.45Z"/>
<path d="M565.1 223.96L566.9 227.35L563.3 227.35Z"/>
<path d="M566.7 227.46L568.5 230.85L564.9 230.85Z"/>
<path d="M565.1 232.76L566.9 236.15L563.3 236.15Z"/>
<path d="M565.1 238.86L566.9 242.25L563.3 242.25Z"/>
<path d="M565.1 243.26L566.9 246.65L563.3 246.65Z"/>
<path d="M563.5 246.76L565.3 250.15L561.7 250.15Z"/>
<circle cx="585.3" cy="202.2" r="1.8"/>
<circle cx="585.3" cy="210.6" r="1.8"/>
<circle cx="585.3" cy="228.5" r="1.8"/>
<circle cx="583.5" cy="247.2" r="1.8"/>
<circle cx="587.1" cy="247.2" r="1.8"/>
<rect x="597.99" y="193.99" width="3.42" height="3.42"/>
<rect x="593.79" y="195.19" width="3.42" height="3.42"/>
<rect x="597.79" y="197.19" width="3.42" height="3.42"/>
<rect x="595.99" y="219.19" width="3.42" height="3.42"/>
<rect x="595.99" y="232.89" width="3.42" height="3.42"/>
<rect x="595.99" y="246.39" width="3.42" height="3.42"/>
<path d="M610.1 173.16L611.9 176.55L608.3 176.55Z"/>
<path d="M608.9 180.16L610.7 183.55L607.1 183.55Z"/>
<path d="M611.1 182.86L612.9 186.25L609.3 186.25Z"/>
<path d="M610.1 197.76L611.9 201.15L608.3 201.15Z"/>
<path d="M610.1 212.66L611.9 216.05L608.3 216.05Z"/>
<path d="M608.3 214.36L610.1 217.75L606.5 217.75Z"/>
<path d="M611.9 214.36L613.7 217.75L610.1 217.75Z"/>
<path d="M610.1 221.36L611.9 224.75L608.3 224.75Z"/>
</g>
<line x1="532.2" y1="165.78" x2="532.2" y2="260.02" stroke="#000" stroke-width="1.05" stroke-linecap="butt"/>
<line x1="531.68" y1="259.5" x2="618" y2="259.5" stroke="#000" stroke-width="1.05" stroke-linecap="butt"/>
<line x1="528.48" y1="259.5" x2="532.2" y2="259.5" stroke="#000" stroke-width="1.05" stroke-linecap="butt"/>
<text x="526.88" y="263.7" font-size="10.8" text-anchor="end">0</text>
<line x1="528.48" y1="240.9" x2="532.2" y2="240.9" stroke="#000" stroke-width="1.05" stroke-linecap="butt"/>
<text x="526.88" y="245.1" font-size="10.8" text-anchor="end">10</text>
<line x1="528.48" y1="222.2" x2="532.2" y2="222.2" stroke="#000" stroke-width="1.05" stroke-linecap="butt"/>
<text x="526.88" y="226.4" font-size="10.8" text-anchor="end">20</text>
<line x1="528.48" y1="203.6" x2="532.2" y2="203.6" stroke="#000" stroke-width="1.05" stroke-linecap="butt"/>
<text x="526.88" y="207.8" font-size="10.8" text-anchor="end">30</text>
<line x1="528.48" y1="184.9" x2="532.2" y2="184.9" stroke="#000" stroke-width="1.05" stroke-linecap="butt"/>
<text x="526.88" y="189.1" font-size="10.8" text-anchor="end">40</text>
<line x1="528.48" y1="166.3" x2="532.2" y2="166.3" stroke="#000" stroke-width="1.05" stroke-linecap="butt"/>
<text x="526.88" y="170.5" font-size="10.8" text-anchor="end">50</text>
<line x1="552.6" y1="259.5" x2="552.6" y2="262.92" stroke="#000" stroke-width="1.05" stroke-linecap="butt"/>
<line x1="597.6" y1="259.5" x2="597.6" y2="262.92" stroke="#000" stroke-width="1.05" stroke-linecap="butt"/>
<path d="M585.3 161V155.8H612V161" fill="none" stroke="#000" stroke-width="1.3"/>
<text x="598.5" y="158.62" font-size="16" text-anchor="middle" font-weight="bold" stroke="#000" stroke-width="0.35">*</text>
<text x="495.4" y="211" font-size="12.3" text-anchor="middle" transform="rotate(-90 495.4 211)">Reduction (%)</text>
<text x="486.2" y="155.6" font-size="18" font-weight="bold">c</text>
<g fill="#000">
<circle cx="628.8" cy="173.4" r="1.7"/>
<rect x="627.18" y="183.78" width="3.23" height="3.23"/>
<path d="M628.8 195.74L630.33 198.62L627.27 198.62Z"/>
</g>
<text x="634.6" y="177.3" font-size="10.9">eGDR&lt;6</text>
<text x="634.6" y="189.3" font-size="10.9">eGDR 6−8</text>
<text x="635.3" y="201.2" font-size="10.9">eGDR&gt;8</text>
<text x="552.6" y="273.1" font-size="10.8" text-anchor="middle">10</text>
<text x="597.6" y="273.1" font-size="10.8" text-anchor="middle">100</text>
<text x="576.6" y="285.8" font-size="10.8" text-anchor="middle">+Dual agonists</text>
<line x1="544.4" y1="289.9" x2="611.7" y2="289.9" stroke="#000" stroke-width="1.6" stroke-linecap="butt"/>
<rect x="110.28" y="478.43" width="7.25" height="85.68" fill="#636363" stroke="#000" stroke-width="1.25"/>
<rect x="122.78" y="524.33" width="7.25" height="39.77" fill="#aaaaaa" stroke="#000" stroke-width="1.25"/>
<rect x="135.78" y="540.42" width="7.25" height="23.68" fill="#ebebeb" stroke="#000" stroke-width="1.25"/>
<rect x="156.57" y="504.43" width="7.25" height="59.68" fill="#636363" stroke="#000" stroke-width="1.25"/>
<rect x="169.47" y="533.73" width="7.25" height="30.38" fill="#aaaaaa" stroke="#000" stroke-width="1.25"/>
<rect x="182.28" y="550.83" width="7.25" height="13.27" fill="#ebebeb" stroke="#000" stroke-width="1.25"/>
<rect x="203.38" y="531.23" width="7.25" height="32.88" fill="#636363" stroke="#000" stroke-width="1.25"/>
<rect x="216.18" y="548.62" width="7.25" height="15.48" fill="#aaaaaa" stroke="#000" stroke-width="1.25"/>
<rect x="229.07" y="556.52" width="7.25" height="7.58" fill="#ebebeb" stroke="#000" stroke-width="1.25"/>
<rect x="250.38" y="464.02" width="7.25" height="100.08" fill="#636363" stroke="#000" stroke-width="1.25"/>
<rect x="262.98" y="519.33" width="7.25" height="44.77" fill="#aaaaaa" stroke="#000" stroke-width="1.25"/>
<rect x="275.77" y="534.73" width="7.25" height="29.38" fill="#ebebeb" stroke="#000" stroke-width="1.25"/>
<rect x="296.88" y="468.93" width="7.25" height="95.18" fill="#636363" stroke="#000" stroke-width="1.25"/>
<rect x="309.77" y="532.23" width="7.25" height="31.88" fill="#aaaaaa" stroke="#000" stroke-width="1.25"/>
<rect x="322.38" y="544.62" width="7.25" height="19.48" fill="#ebebeb" stroke="#000" stroke-width="1.25"/>
<rect x="343.48" y="515.62" width="7.25" height="48.48" fill="#636363" stroke="#000" stroke-width="1.25"/>
<rect x="356.38" y="544.12" width="7.25" height="19.98" fill="#aaaaaa" stroke="#000" stroke-width="1.25"/>
<rect x="369.38" y="557.83" width="7.25" height="6.27" fill="#ebebeb" stroke="#000" stroke-width="1.25"/>
<line x1="113.9" y1="477.8" x2="113.9" y2="511.4" stroke="#8a8a8a" stroke-width="0.8" stroke-linecap="butt"/>
<line x1="110.7" y1="511.4" x2="117.1" y2="511.4" stroke="#8a8a8a" stroke-width="0.8" stroke-linecap="butt"/>
<line x1="113.9" y1="444.2" x2="113.9" y2="477.8" stroke="#222" stroke-width="0.8" stroke-linecap="butt"/>
<line x1="110.7" y1="444.2" x2="117.1" y2="444.2" stroke="#222" stroke-width="0.8" stroke-linecap="butt"/>
<line x1="126.4" y1="523.7" x2="126.4" y2="532.7" stroke="#d8d8d8" stroke-width="0.8" stroke-linecap="butt"/>
<line x1="123.2" y1="532.7" x2="129.6" y2="532.7" stroke="#d8d8d8" stroke-width="0.8" stroke-linecap="butt"/>
<line x1="126.4" y1="514.7" x2="126.4" y2="523.7" stroke="#222" stroke-width="0.8" stroke-linecap="butt"/>
<line x1="123.2" y1="514.7" x2="129.6" y2="514.7" stroke="#222" stroke-width="0.8" stroke-linecap="butt"/>
<line x1="139.4" y1="539.8" x2="139.4" y2="549.8" stroke="#ffffff" stroke-width="0.8" stroke-linecap="butt"/>
<line x1="136.2" y1="549.8" x2="142.6" y2="549.8" stroke="#ffffff" stroke-width="0.8" stroke-linecap="butt"/>
<line x1="139.4" y1="529.8" x2="139.4" y2="539.8" stroke="#222" stroke-width="0.8" stroke-linecap="butt"/>
<line x1="136.2" y1="529.8" x2="142.6" y2="529.8" stroke="#222" stroke-width="0.8" stroke-linecap="butt"/>
<line x1="160.2" y1="503.8" x2="160.2" y2="523.6" stroke="#8a8a8a" stroke-width="0.8" stroke-linecap="butt"/>
<line x1="157" y1="523.6" x2="163.4" y2="523.6" stroke="#8a8a8a" stroke-width="0.8" stroke-linecap="butt"/>
<line x1="160.2" y1="484" x2="160.2" y2="503.8" stroke="#222" stroke-width="0.8" stroke-linecap="butt"/>
<line x1="157" y1="484" x2="163.4" y2="484" stroke="#222" stroke-width="0.8" stroke-linecap="butt"/>
<line x1="173.1" y1="533.1" x2="173.1" y2="554.9" stroke="#d8d8d8" stroke-width="0.8" stroke-linecap="butt"/>
<line x1="169.9" y1="554.9" x2="176.3" y2="554.9" stroke="#d8d8d8" stroke-width="0.8" stroke-linecap="butt"/>
<line x1="173.1" y1="511.3" x2="173.1" y2="533.1" stroke="#222" stroke-width="0.8" stroke-linecap="butt"/>
<line x1="169.9" y1="511.3" x2="176.3" y2="511.3" stroke="#222" stroke-width="0.8" stroke-linecap="butt"/>
<line x1="185.9" y1="550.2" x2="185.9" y2="561.1" stroke="#ffffff" stroke-width="0.8" stroke-linecap="butt"/>
<line x1="182.7" y1="561.1" x2="189.1" y2="561.1" stroke="#ffffff" stroke-width="0.8" stroke-linecap="butt"/>
<line x1="185.9" y1="539.3" x2="185.9" y2="550.2" stroke="#222" stroke-width="0.8" stroke-linecap="butt"/>
<line x1="182.7" y1="539.3" x2="189.1" y2="539.3" stroke="#222" stroke-width="0.8" stroke-linecap="butt"/>
<line x1="207" y1="530.6" x2="207" y2="540.6" stroke="#8a8a8a" stroke-width="0.8" stroke-linecap="butt"/>
<line x1="203.8" y1="540.6" x2="210.2" y2="540.6" stroke="#8a8a8a" stroke-width="0.8" stroke-linecap="butt"/>
<line x1="207" y1="520.6" x2="207" y2="530.6" stroke="#222" stroke-width="0.8" stroke-linecap="butt"/>
<line x1="203.8" y1="520.6" x2="210.2" y2="520.6" stroke="#222" stroke-width="0.8" stroke-linecap="butt"/>
<line x1="219.8" y1="548" x2="219.8" y2="558.2" stroke="#d8d8d8" stroke-width="0.8" stroke-linecap="butt"/>
<line x1="216.6" y1="558.2" x2="223" y2="558.2" stroke="#d8d8d8" stroke-width="0.8" stroke-linecap="butt"/>
<line x1="219.8" y1="537.8" x2="219.8" y2="548" stroke="#222" stroke-width="0.8" stroke-linecap="butt"/>
<line x1="216.6" y1="537.8" x2="223" y2="537.8" stroke="#222" stroke-width="0.8" stroke-linecap="butt"/>
<line x1="232.7" y1="555.9" x2="232.7" y2="563.1" stroke="#ffffff" stroke-width="0.8" stroke-linecap="butt"/>
<line x1="232.7" y1="547.3" x2="232.7" y2="555.9" stroke="#222" stroke-width="0.8" stroke-linecap="butt"/>
<line x1="229.5" y1="547.3" x2="235.9" y2="547.3" stroke="#222" stroke-width="0.8" stroke-linecap="butt"/>
<line x1="254" y1="463.4" x2="254" y2="504.9" stroke="#8a8a8a" stroke-width="0.8" stroke-linecap="butt"/>
<line x1="250.8" y1="504.9" x2="257.2" y2="504.9" stroke="#8a8a8a" stroke-width="0.8" stroke-linecap="butt"/>
<line x1="254" y1="421.9" x2="254" y2="463.4" stroke="#222" stroke-width="0.8" stroke-linecap="butt"/>
<line x1="250.8" y1="421.9" x2="257.2" y2="421.9" stroke="#222" stroke-width="0.8" stroke-linecap="butt"/>
<line x1="266.6" y1="518.7" x2="266.6" y2="537.8" stroke="#d8d8d8" stroke-width="0.8" stroke-linecap="butt"/>
<line x1="263.4" y1="537.8" x2="269.8" y2="537.8" stroke="#d8d8d8" stroke-width="0.8" stroke-linecap="butt"/>
<line x1="266.6" y1="499.6" x2="266.6" y2="518.7" stroke="#222" stroke-width="0.8" stroke-linecap="butt"/>
<line x1="263.4" y1="499.6" x2="269.8" y2="499.6" stroke="#222" stroke-width="0.8" stroke-linecap="butt"/>
<line x1="279.4" y1="534.1" x2="279.4" y2="540.1" stroke="#ffffff" stroke-width="0.8" stroke-linecap="butt"/>
<line x1="276.2" y1="540.1" x2="282.6" y2="540.1" stroke="#ffffff" stroke-width="0.8" stroke-linecap="butt"/>
<line x1="279.4" y1="528.1" x2="279.4" y2="534.1" stroke="#222" stroke-width="0.8" stroke-linecap="butt"/>
<line x1="276.2" y1="528.1" x2="282.6" y2="528.1" stroke="#222" stroke-width="0.8" stroke-linecap="butt"/>
<line x1="300.5" y1="468.3" x2="300.5" y2="532.1" stroke="#8a8a8a" stroke-width="0.8" stroke-linecap="butt"/>
<line x1="297.3" y1="532.1" x2="303.7" y2="532.1" stroke="#8a8a8a" stroke-width="0.8" stroke-linecap="butt"/>
<line x1="300.5" y1="404.5" x2="300.5" y2="468.3" stroke="#222" stroke-width="0.8" stroke-linecap="butt"/>
<line x1="297.3" y1="404.5" x2="303.7" y2="404.5" stroke="#222" stroke-width="0.8" stroke-linecap="butt"/>
<line x1="313.4" y1="531.6" x2="313.4" y2="540.6" stroke="#d8d8d8" stroke-width="0.8" stroke-linecap="butt"/>
<line x1="310.2" y1="540.6" x2="316.6" y2="540.6" stroke="#d8d8d8" stroke-width="0.8" stroke-linecap="butt"/>
<line x1="313.4" y1="522.6" x2="313.4" y2="531.6" stroke="#222" stroke-width="0.8" stroke-linecap="butt"/>
<line x1="310.2" y1="522.6" x2="316.6" y2="522.6" stroke="#222" stroke-width="0.8" stroke-linecap="butt"/>
<line x1="326" y1="544" x2="326" y2="552" stroke="#ffffff" stroke-width="0.8" stroke-linecap="butt"/>
<line x1="322.8" y1="552" x2="329.2" y2="552" stroke="#ffffff" stroke-width="0.8" stroke-linecap="butt"/>
<line x1="326" y1="536" x2="326" y2="544" stroke="#222" stroke-width="0.8" stroke-linecap="butt"/>
<line x1="322.8" y1="536" x2="329.2" y2="536" stroke="#222" stroke-width="0.8" stroke-linecap="butt"/>
<line x1="347.1" y1="515" x2="347.1" y2="545.5" stroke="#8a8a8a" stroke-width="0.8" stroke-linecap="butt"/>
<line x1="343.9" y1="545.5" x2="350.3" y2="545.5" stroke="#8a8a8a" stroke-width="0.8" stroke-linecap="butt"/>
<line x1="347.1" y1="484.5" x2="347.1" y2="515" stroke="#222" stroke-width="0.8" stroke-linecap="butt"/>
<line x1="343.9" y1="484.5" x2="350.3" y2="484.5" stroke="#222" stroke-width="0.8" stroke-linecap="butt"/>
<line x1="360" y1="543.5" x2="360" y2="549.5" stroke="#d8d8d8" stroke-width="0.8" stroke-linecap="butt"/>
<line x1="356.8" y1="549.5" x2="363.2" y2="549.5" stroke="#d8d8d8" stroke-width="0.8" stroke-linecap="butt"/>
<line x1="360" y1="537.5" x2="360" y2="543.5" stroke="#222" stroke-width="0.8" stroke-linecap="butt"/>
<line x1="356.8" y1="537.5" x2="363.2" y2="537.5" stroke="#222" stroke-width="0.8" stroke-linecap="butt"/>
<line x1="373" y1="557.2" x2="373" y2="562.2" stroke="#ffffff" stroke-width="0.8" stroke-linecap="butt"/>
<line x1="369.8" y1="562.2" x2="376.2" y2="562.2" stroke="#ffffff" stroke-width="0.8" stroke-linecap="butt"/>
<line x1="373" y1="552.2" x2="373" y2="557.2" stroke="#222" stroke-width="0.8" stroke-linecap="butt"/>
<line x1="369.8" y1="552.2" x2="376.2" y2="552.2" stroke="#222" stroke-width="0.8" stroke-linecap="butt"/>
<g fill="#000">
<circle cx="66" cy="561.2" r="3.1"/>
<circle cx="67.3" cy="562" r="3.1"/>
<circle cx="66.6" cy="562.8" r="3.1"/>
<rect x="76.25" y="560.05" width="5.89" height="5.89"/>
<rect x="77.16" y="560.45" width="5.89" height="5.89"/>
<path d="M91.8 560.04L94.9 565.87L88.7 565.87Z"/>
<path d="M93.1 560.34L96.2 566.17L90 566.17Z"/>
<circle cx="113.9" cy="420.2" r="3.1"/>
<circle cx="114.9" cy="470.3" r="3.1"/>
<circle cx="112.3" cy="475.3" r="3.1"/>
<circle cx="113.9" cy="480.2" r="3.1"/>
<circle cx="113.9" cy="485.2" r="3.1"/>
<circle cx="113.9" cy="534.3" r="3.1"/>
<rect x="123.46" y="506.56" width="5.89" height="5.89"/>
<rect x="122.26" y="519.45" width="5.89" height="5.89"/>
<rect x="124.66" y="523.25" width="5.89" height="5.89"/>
<rect x="123.46" y="528.15" width="5.89" height="5.89"/>
<rect x="123.46" y="531.85" width="5.89" height="5.89"/>
<rect x="123.46" y="535.65" width="5.89" height="5.89"/>
<path d="M139.4 518.74L142.5 524.57L136.3 524.57Z"/>
<path d="M139.4 527.94L142.5 533.77L136.3 533.77Z"/>
<path d="M139.4 532.94L142.5 538.77L136.3 538.77Z"/>
<path d="M139.4 537.84L142.5 543.67L136.3 543.67Z"/>
<path d="M139.4 540.34L142.5 546.17L136.3 546.17Z"/>
<path d="M139.4 544.14L142.5 549.97L136.3 549.97Z"/>
<path d="M139.4 547.84L142.5 553.67L136.3 553.67Z"/>
<circle cx="160.2" cy="480.2" r="3.1"/>
<circle cx="160.2" cy="488.2" r="3.1"/>
<circle cx="160.2" cy="500.1" r="3.1"/>
<circle cx="158.4" cy="503.8" r="3.1"/>
<circle cx="162" cy="503.8" r="3.1"/>
<circle cx="160.2" cy="506.8" r="3.1"/>
<circle cx="160.2" cy="542.8" r="3.1"/>
<rect x="170.16" y="480.56" width="5.89" height="5.89"/>
<rect x="170.16" y="523.25" width="5.89" height="5.89"/>
<rect x="170.16" y="528.15" width="5.89" height="5.89"/>
<rect x="170.16" y="535.65" width="5.89" height="5.89"/>
<rect x="170.16" y="543.05" width="5.89" height="5.89"/>
<rect x="170.16" y="548.55" width="5.89" height="5.89"/>
<path d="M185.9 525.94L189 531.77L182.8 531.77Z"/>
<path d="M185.9 530.94L189 536.77L182.8 536.77Z"/>
<path d="M185.9 542.84L189 548.67L182.8 548.67Z"/>
<path d="M185.9 549.04L189 554.87L182.8 554.87Z"/>
<path d="M185.9 552.74L189 558.57L182.8 558.57Z"/>
<path d="M185.9 556.54L189 562.37L182.8 562.37Z"/>
<path d="M185.9 558.44L189 564.27L182.8 564.27Z"/>
<circle cx="207" cy="514.5" r="3.1"/>
<circle cx="207" cy="522.4" r="3.1"/>
<circle cx="205.2" cy="524.9" r="3.1"/>
<circle cx="208.8" cy="524.9" r="3.1"/>
<circle cx="207" cy="531.1" r="3.1"/>
<circle cx="207" cy="546" r="3.1"/>
<circle cx="207" cy="553.5" r="3.1"/>
<rect x="216.86" y="521.95" width="5.89" height="5.89"/>
<rect x="216.86" y="543.05" width="5.89" height="5.89"/>
<rect x="216.86" y="546.75" width="5.89" height="5.89"/>
<rect x="216.86" y="549.25" width="5.89" height="5.89"/>
<rect x="216.86" y="551.75" width="5.89" height="5.89"/>
<rect x="216.86" y="555.45" width="5.89" height="5.89"/>
<path d="M232.7 530.94L235.8 536.77L229.6 536.77Z"/>
<path d="M232.7 552.74L235.8 558.57L229.6 558.57Z"/>
<path d="M232.7 555.24L235.8 561.07L229.6 561.07Z"/>
<path d="M232.7 557.74L235.8 563.57L229.6 563.57Z"/>
<path d="M232.7 558.64L235.8 564.47L229.6 564.47Z"/>
<circle cx="254" cy="402" r="3.1"/>
<circle cx="254" cy="409" r="3.1"/>
<circle cx="254" cy="463.4" r="3.1"/>
<circle cx="254" cy="483.5" r="3.1"/>
<circle cx="254" cy="486.4" r="3.1"/>
<circle cx="254" cy="496.9" r="3.1"/>
<circle cx="254" cy="502.6" r="3.1"/>
<rect x="263.66" y="485.25" width="5.89" height="5.89"/>
<rect x="263.66" y="487.45" width="5.89" height="5.89"/>
<rect x="263.66" y="520.75" width="5.89" height="5.89"/>
<rect x="263.66" y="524.45" width="5.89" height="5.89"/>
<rect x="263.66" y="530.65" width="5.89" height="5.89"/>
<rect x="263.66" y="535.65" width="5.89" height="5.89"/>
<path d="M279.4 521.74L282.5 527.57L276.3 527.57Z"/>
<path d="M279.4 529.24L282.5 535.07L276.3 535.07Z"/>
<path d="M279.4 531.64L282.5 537.47L276.3 537.47Z"/>
<path d="M279.4 534.14L282.5 539.97L276.3 539.97Z"/>
<path d="M279.4 541.64L282.5 547.47L276.3 547.47Z"/>
<circle cx="300.5" cy="404.5" r="3.1"/>
<circle cx="300.5" cy="420.2" r="3.1"/>
<circle cx="300.5" cy="433.8" r="3.1"/>
<circle cx="300.5" cy="471.5" r="3.1"/>
<circle cx="300.5" cy="500.1" r="3.1"/>
<circle cx="300.5" cy="515.7" r="3.1"/>
<circle cx="300.5" cy="531.1" r="3.1"/>
<rect x="310.45" y="512.05" width="5.89" height="5.89"/>
<rect x="310.45" y="516.25" width="5.89" height="5.89"/>
<rect x="310.45" y="528.15" width="5.89" height="5.89"/>
<rect x="310.45" y="531.85" width="5.89" height="5.89"/>
<rect x="310.45" y="535.65" width="5.89" height="5.89"/>
<rect x="310.45" y="541.85" width="5.89" height="5.89"/>
<path d="M326 527.94L329.1 533.77L322.9 533.77Z"/>
<path d="M326 532.94L329.1 538.77L322.9 538.77Z"/>
<path d="M326 537.84L329.1 543.67L322.9 543.67Z"/>
<path d="M326 542.84L329.1 548.67L322.9 548.67Z"/>
<path d="M326 547.84L329.1 553.67L322.9 553.67Z"/>
<path d="M326 555.24L329.1 561.07L322.9 561.07Z"/>
<circle cx="347.1" cy="475.3" r="3.1"/>
<circle cx="347.1" cy="488.9" r="3.1"/>
<circle cx="347.1" cy="498.1" r="3.1"/>
<circle cx="347.1" cy="512.5" r="3.1"/>
<circle cx="347.1" cy="545.5" r="3.1"/>
<circle cx="347.1" cy="557.9" r="3.1"/>
<rect x="357.06" y="533.15" width="5.89" height="5.89"/>
<rect x="357.06" y="541.85" width="5.89" height="5.89"/>
<rect x="357.06" y="545.55" width="5.89" height="5.89"/>
<rect x="357.06" y="549.25" width="5.89" height="5.89"/>
<rect x="357.06" y="552.95" width="5.89" height="5.89"/>
<rect x="357.06" y="555.45" width="5.89" height="5.89"/>
<path d="M373 546.54L376.1 552.37L369.9 552.37Z"/>
<path d="M373 552.74L376.1 558.57L369.9 558.57Z"/>
<path d="M373 555.24L376.1 561.07L369.9 561.07Z"/>
<path d="M373 557.24L376.1 563.07L369.9 563.07Z"/>
<path d="M373 558.44L376.1 564.27L369.9 564.27Z"/>
</g>
<line x1="58.3" y1="363.2" x2="58.3" y2="565" stroke="#000" stroke-width="1.8" stroke-linecap="butt"/>
<line x1="57.4" y1="564.1" x2="381" y2="564.1" stroke="#000" stroke-width="1.8" stroke-linecap="butt"/>
<line x1="51.6" y1="564.1" x2="58.3" y2="564.1" stroke="#000" stroke-width="1.8" stroke-linecap="butt"/>
<text x="50.7" y="568" font-size="10.8" text-anchor="end">0</text>
<line x1="51.6" y1="524.1" x2="58.3" y2="524.1" stroke="#000" stroke-width="1.8" stroke-linecap="butt"/>
<text x="50.7" y="528" font-size="10.8" text-anchor="end">10,000</text>
<line x1="51.6" y1="484.1" x2="58.3" y2="484.1" stroke="#000" stroke-width="1.8" stroke-linecap="butt"/>
<text x="50.7" y="488" font-size="10.8" text-anchor="end">20,000</text>
<line x1="51.6" y1="444.1" x2="58.3" y2="444.1" stroke="#000" stroke-width="1.8" stroke-linecap="butt"/>
<text x="50.7" y="448" font-size="10.8" text-anchor="end">30,000</text>
<line x1="51.6" y1="404.1" x2="58.3" y2="404.1" stroke="#000" stroke-width="1.8" stroke-linecap="butt"/>
<text x="50.7" y="408" font-size="10.8" text-anchor="end">40,000</text>
<line x1="51.6" y1="364.1" x2="58.3" y2="364.1" stroke="#000" stroke-width="1.8" stroke-linecap="butt"/>
<text x="50.7" y="368" font-size="10.8" text-anchor="end">50,000</text>
<line x1="79.6" y1="564.1" x2="79.6" y2="570.2" stroke="#000" stroke-width="1.8" stroke-linecap="butt"/>
<line x1="126.1" y1="564.1" x2="126.1" y2="570.2" stroke="#000" stroke-width="1.8" stroke-linecap="butt"/>
<line x1="172.7" y1="564.1" x2="172.7" y2="570.2" stroke="#000" stroke-width="1.8" stroke-linecap="butt"/>
<line x1="219.4" y1="564.1" x2="219.4" y2="570.2" stroke="#000" stroke-width="1.8" stroke-linecap="butt"/>
<line x1="266.2" y1="564.1" x2="266.2" y2="570.2" stroke="#000" stroke-width="1.8" stroke-linecap="butt"/>
<line x1="312.9" y1="564.1" x2="312.9" y2="570.2" stroke="#000" stroke-width="1.8" stroke-linecap="butt"/>
<line x1="359.8" y1="564.1" x2="359.8" y2="570.2" stroke="#000" stroke-width="1.8" stroke-linecap="butt"/>
<path d="M66.5 556V551.5H91.3V556" fill="none" stroke="#000" stroke-width="1.6"/>
<text x="79.4" y="554.12" font-size="16" text-anchor="middle" font-weight="bold" stroke="#000" stroke-width="0.35">*</text>
<path d="M159.4 464.1V458.6H185.2V464.1" fill="none" stroke="#000" stroke-width="1.6"/>
<text x="172.3" y="461.52" font-size="16" text-anchor="middle" font-weight="bold" stroke="#000" stroke-width="0.35">***</text>
<path d="M161.1 474V469.6H173V474" fill="none" stroke="#000" stroke-width="1.6"/>
<text x="166.8" y="473.42" font-size="16" text-anchor="middle" font-weight="bold" stroke="#000" stroke-width="0.35">*</text>
<path d="M205.3 497.6V491.9H231.3V497.6" fill="none" stroke="#000" stroke-width="1.6"/>
<text x="218.2" y="494.32" font-size="16" text-anchor="middle" font-weight="bold" stroke="#000" stroke-width="0.35">**</text>
<path d="M206.5 508.8V504.3H218.2V508.8" fill="none" stroke="#000" stroke-width="1.6"/>
<text x="212.5" y="507.02" font-size="16" text-anchor="middle" font-weight="bold" stroke="#000" stroke-width="0.35">*</text>
<path d="M251.7 384.2V379.7H277.8V384.2" fill="none" stroke="#000" stroke-width="1.6"/>
<text x="265.3" y="382.12" font-size="16" text-anchor="middle" font-weight="bold" stroke="#000" stroke-width="0.35">*</text>
<path d="M252.9 397.6V392.9H267.3V397.6" fill="none" stroke="#000" stroke-width="1.6"/>
<text x="260.1" y="396.32" font-size="16" text-anchor="middle" font-weight="bold" stroke="#000" stroke-width="0.35">*</text>
<path d="M300.6 384.2V379.7H325.9V384.2" fill="none" stroke="#000" stroke-width="1.6"/>
<text x="314.3" y="381.62" font-size="16" text-anchor="middle" font-weight="bold" stroke="#000" stroke-width="0.35">**</text>
<path d="M300.6 396.3V391.6H314V396.3" fill="none" stroke="#000" stroke-width="1.6"/>
<text x="307.3" y="394.52" font-size="16" text-anchor="middle" font-weight="bold" stroke="#000" stroke-width="0.35">*</text>
<path d="M346.5 457.2V452.9H373.1V457.2" fill="none" stroke="#000" stroke-width="1.6"/>
<text x="359.9" y="455.32" font-size="16" text-anchor="middle" font-weight="bold" stroke="#000" stroke-width="0.35">*</text>
<path d="M346.5 468.3V463.4H360.2V468.3" fill="none" stroke="#000" stroke-width="1.6"/>
<text x="353.7" y="466.52" font-size="16" text-anchor="middle" font-weight="bold" stroke="#000" stroke-width="0.35">*</text>
<text x="10.4" y="465" font-size="12.3" text-anchor="middle" transform="rotate(-90 10.4 465)">MFI (PAC-1)</text>
<text x="-0.3" y="359.4" font-size="18" font-weight="bold">d</text>
<g fill="#000">
<circle cx="413.3" cy="391.4" r="3"/>
<rect x="410.45" y="404.95" width="5.7" height="5.7"/>
<path d="M413.3 421.84L416.3 427.48L410.3 427.48Z"/>
</g>
<text x="422.6" y="395.3" font-size="10.9">eGDR&lt;6</text>
<text x="422.6" y="411.7" font-size="10.9">eGDR 6−8</text>
<text x="423.3" y="428.8" font-size="10.9">eGDR&gt;8</text>
<text x="83.4" y="573.2" font-size="10.8" text-anchor="end" transform="rotate(-90 83.4 573.2)">Basal</text>
<text x="129.9" y="573.2" font-size="10.8" text-anchor="end" transform="rotate(-90 129.9 573.2)">1µg/ml CRP-XL</text>
<text x="176.5" y="573.2" font-size="10.8" text-anchor="end" transform="rotate(-90 176.5 573.2)">10</text>
<text x="223.2" y="573.2" font-size="10.8" text-anchor="end" transform="rotate(-90 223.2 573.2)">100</text>
<text x="270" y="573.2" font-size="10.8" text-anchor="end" transform="rotate(-90 270 573.2)">Dual agonists</text>
<text x="316.6" y="573.2" font-size="10.8" text-anchor="end" transform="rotate(-90 316.6 573.2)">10</text>
<text x="363.5" y="573.2" font-size="10.8" text-anchor="end" transform="rotate(-90 363.5 573.2)">100</text>
<text x="197.6" y="600.8" font-size="10.8" text-anchor="middle">+1 µg/ml CRP-XL</text>
<line x1="175.5" y1="605.6" x2="218.1" y2="605.6" stroke="#000" stroke-width="1.5" stroke-linecap="butt"/>
<text x="335.7" y="600.8" font-size="10.8" text-anchor="middle">+Dual agonists</text>
<line x1="311" y1="605.6" x2="360.6" y2="605.6" stroke="#000" stroke-width="1.5" stroke-linecap="butt"/>
<rect x="536.73" y="429.62" width="6.95" height="26.57" fill="#636363" stroke="#000" stroke-width="1.05"/>
<rect x="549.02" y="417.32" width="6.95" height="38.87" fill="#aaaaaa" stroke="#000" stroke-width="1.05"/>
<rect x="561.52" y="409.42" width="6.95" height="46.78" fill="#ebebeb" stroke="#000" stroke-width="1.05"/>
<rect x="581.62" y="409.82" width="6.95" height="46.37" fill="#636363" stroke="#000" stroke-width="1.05"/>
<rect x="594.02" y="399.52" width="6.95" height="56.67" fill="#aaaaaa" stroke="#000" stroke-width="1.05"/>
<rect x="606.52" y="386.72" width="6.95" height="69.47" fill="#ebebeb" stroke="#000" stroke-width="1.05"/>
<line x1="540.2" y1="429.1" x2="540.2" y2="436.1" stroke="#8a8a8a" stroke-width="0.7" stroke-linecap="butt"/>
<line x1="537.8" y1="436.1" x2="542.6" y2="436.1" stroke="#8a8a8a" stroke-width="0.7" stroke-linecap="butt"/>
<line x1="540.2" y1="422.1" x2="540.2" y2="429.1" stroke="#222" stroke-width="0.7" stroke-linecap="butt"/>
<line x1="537.8" y1="422.1" x2="542.6" y2="422.1" stroke="#222" stroke-width="0.7" stroke-linecap="butt"/>
<line x1="552.5" y1="416.8" x2="552.5" y2="423.8" stroke="#d8d8d8" stroke-width="0.7" stroke-linecap="butt"/>
<line x1="550.1" y1="423.8" x2="554.9" y2="423.8" stroke="#d8d8d8" stroke-width="0.7" stroke-linecap="butt"/>
<line x1="552.5" y1="409.8" x2="552.5" y2="416.8" stroke="#222" stroke-width="0.7" stroke-linecap="butt"/>
<line x1="550.1" y1="409.8" x2="554.9" y2="409.8" stroke="#222" stroke-width="0.7" stroke-linecap="butt"/>
<line x1="565" y1="408.9" x2="565" y2="416.7" stroke="#ffffff" stroke-width="0.7" stroke-linecap="butt"/>
<line x1="562.6" y1="416.7" x2="567.4" y2="416.7" stroke="#ffffff" stroke-width="0.7" stroke-linecap="butt"/>
<line x1="565" y1="401.1" x2="565" y2="408.9" stroke="#222" stroke-width="0.7" stroke-linecap="butt"/>
<line x1="562.6" y1="401.1" x2="567.4" y2="401.1" stroke="#222" stroke-width="0.7" stroke-linecap="butt"/>
<line x1="585.1" y1="409.3" x2="585.1" y2="415.8" stroke="#8a8a8a" stroke-width="0.7" stroke-linecap="butt"/>
<line x1="582.7" y1="415.8" x2="587.5" y2="415.8" stroke="#8a8a8a" stroke-width="0.7" stroke-linecap="butt"/>
<line x1="585.1" y1="402.8" x2="585.1" y2="409.3" stroke="#222" stroke-width="0.7" stroke-linecap="butt"/>
<line x1="582.7" y1="402.8" x2="587.5" y2="402.8" stroke="#222" stroke-width="0.7" stroke-linecap="butt"/>
<line x1="597.5" y1="399" x2="597.5" y2="406.6" stroke="#d8d8d8" stroke-width="0.7" stroke-linecap="butt"/>
<line x1="595.1" y1="406.6" x2="599.9" y2="406.6" stroke="#d8d8d8" stroke-width="0.7" stroke-linecap="butt"/>
<line x1="597.5" y1="391.4" x2="597.5" y2="399" stroke="#222" stroke-width="0.7" stroke-linecap="butt"/>
<line x1="595.1" y1="391.4" x2="599.9" y2="391.4" stroke="#222" stroke-width="0.7" stroke-linecap="butt"/>
<line x1="610" y1="386.2" x2="610" y2="389.7" stroke="#ffffff" stroke-width="0.7" stroke-linecap="butt"/>
<line x1="607.6" y1="389.7" x2="612.4" y2="389.7" stroke="#ffffff" stroke-width="0.7" stroke-linecap="butt"/>
<line x1="610" y1="382.7" x2="610" y2="386.2" stroke="#222" stroke-width="0.7" stroke-linecap="butt"/>
<line x1="607.6" y1="382.7" x2="612.4" y2="382.7" stroke="#222" stroke-width="0.7" stroke-linecap="butt"/>
<g fill="#000">
<circle cx="540.2" cy="417.7" r="1.8"/>
<circle cx="540.2" cy="421.6" r="1.8"/>
<circle cx="538.4" cy="430" r="1.8"/>
<circle cx="542" cy="430" r="1.8"/>
<circle cx="540.2" cy="431.7" r="1.8"/>
<circle cx="540.2" cy="446.3" r="1.8"/>
<rect x="550.79" y="400.19" width="3.42" height="3.42"/>
<rect x="550.79" y="406.39" width="3.42" height="3.42"/>
<rect x="548.99" y="415.99" width="3.42" height="3.42"/>
<rect x="552.59" y="415.99" width="3.42" height="3.42"/>
<rect x="550.79" y="420.39" width="3.42" height="3.42"/>
<rect x="548.99" y="425.59" width="3.42" height="3.42"/>
<rect x="552.59" y="425.59" width="3.42" height="3.42"/>
<rect x="550.79" y="436.19" width="3.42" height="3.42"/>
<path d="M565 383.46L566.8 386.85L563.2 386.85Z"/>
<path d="M565 394.86L566.8 398.25L563.2 398.25Z"/>
<path d="M563.2 399.26L565 402.65L561.4 402.65Z"/>
<path d="M566.8 399.26L568.6 402.65L565 402.65Z"/>
<path d="M563.4 410.66L565.2 414.05L561.6 414.05Z"/>
<path d="M566.6 413.26L568.4 416.65L564.8 416.65Z"/>
<path d="M563.4 416.76L565.2 420.15L561.6 420.15Z"/>
<path d="M566.6 419.36L568.4 422.75L564.8 422.75Z"/>
<path d="M563.8 421.96L565.6 425.35L562 425.35Z"/>
<circle cx="583.3" cy="396.2" r="1.8"/>
<circle cx="586.9" cy="396.2" r="1.8"/>
<circle cx="585.1" cy="401.9" r="1.8"/>
<circle cx="585.1" cy="409.8" r="1.8"/>
<circle cx="585.1" cy="414.2" r="1.8"/>
<circle cx="585.1" cy="426.5" r="1.8"/>
<rect x="597.79" y="384.49" width="3.42" height="3.42"/>
<rect x="593.39" y="386.19" width="3.42" height="3.42"/>
<rect x="597.59" y="387.09" width="3.42" height="3.42"/>
<rect x="595.79" y="392.39" width="3.42" height="3.42"/>
<rect x="595.79" y="397.59" width="3.42" height="3.42"/>
<rect x="595.79" y="404.59" width="3.42" height="3.42"/>
<rect x="595.79" y="419.89" width="3.42" height="3.42"/>
<path d="M608.2 378.16L610 381.55L606.4 381.55Z"/>
<path d="M611.8 378.16L613.6 381.55L610 381.55Z"/>
<path d="M610 380.86L611.8 384.25L608.2 384.25Z"/>
<path d="M610 382.56L611.8 385.95L608.2 385.95Z"/>
<path d="M610 385.16L611.8 388.55L608.2 388.55Z"/>
<path d="M610 387.86L611.8 391.25L608.2 391.25Z"/>
<path d="M610 390.46L611.8 393.85L608.2 393.85Z"/>
<path d="M610 393.96L611.8 397.35L608.2 397.35Z"/>
</g>
<line x1="532.2" y1="363.38" x2="532.2" y2="456.72" stroke="#000" stroke-width="1.05" stroke-linecap="butt"/>
<line x1="531.68" y1="456.2" x2="617.2" y2="456.2" stroke="#000" stroke-width="1.05" stroke-linecap="butt"/>
<line x1="528.48" y1="456.2" x2="532.2" y2="456.2" stroke="#000" stroke-width="1.05" stroke-linecap="butt"/>
<text x="527.38" y="460.4" font-size="10.8" text-anchor="end">0</text>
<line x1="528.48" y1="437.7" x2="532.2" y2="437.7" stroke="#000" stroke-width="1.05" stroke-linecap="butt"/>
<text x="527.38" y="441.9" font-size="10.8" text-anchor="end">20</text>
<line x1="528.48" y1="419.3" x2="532.2" y2="419.3" stroke="#000" stroke-width="1.05" stroke-linecap="butt"/>
<text x="527.38" y="423.5" font-size="10.8" text-anchor="end">40</text>
<line x1="528.48" y1="400.8" x2="532.2" y2="400.8" stroke="#000" stroke-width="1.05" stroke-linecap="butt"/>
<text x="527.38" y="405" font-size="10.8" text-anchor="end">60</text>
<line x1="528.48" y1="382.4" x2="532.2" y2="382.4" stroke="#000" stroke-width="1.05" stroke-linecap="butt"/>
<text x="527.38" y="386.6" font-size="10.8" text-anchor="end">80</text>
<line x1="528.48" y1="363.9" x2="532.2" y2="363.9" stroke="#000" stroke-width="1.05" stroke-linecap="butt"/>
<text x="527.38" y="368.1" font-size="10.8" text-anchor="end">100</text>
<line x1="552.6" y1="456.2" x2="552.6" y2="459.62" stroke="#000" stroke-width="1.05" stroke-linecap="butt"/>
<line x1="597.6" y1="456.2" x2="597.6" y2="459.62" stroke="#000" stroke-width="1.05" stroke-linecap="butt"/>
<path d="M542.8 366V362H566.6V366" fill="none" stroke="#000" stroke-width="1.3"/>
<text x="554.3" y="365.12" font-size="16" text-anchor="middle" font-weight="bold" stroke="#000" stroke-width="0.35">***</text>
<path d="M551.7 380.6V377.4H565.7V380.6" fill="none" stroke="#000" stroke-width="1.3"/>
<text x="558.7" y="379.82" font-size="16" text-anchor="middle" font-weight="bold" stroke="#000" stroke-width="0.35">*</text>
<path d="M585.3 365.1V361.6H609V365.1" fill="none" stroke="#000" stroke-width="1.3"/>
<text x="597.1" y="364.62" font-size="16" text-anchor="middle" font-weight="bold" stroke="#000" stroke-width="0.35">***</text>
<path d="M597.6 376.5V373H609V376.5" fill="none" stroke="#000" stroke-width="1.3"/>
<text x="603.2" y="375.62" font-size="16" text-anchor="middle" font-weight="bold" stroke="#000" stroke-width="0.35">*</text>
<text x="495" y="410.1" font-size="12.3" text-anchor="middle" transform="rotate(-90 495 410.1)">Reduction (%)</text>
<text x="486.2" y="358.5" font-size="18" font-weight="bold">e</text>
<g fill="#000">
<circle cx="628.8" cy="368.8" r="1.7"/>
<rect x="627.18" y="379.19" width="3.23" height="3.23"/>
<path d="M628.8 391.64L630.33 394.52L627.27 394.52Z"/>
</g>
<text x="634.6" y="372.7" font-size="10.9">eGDR&lt;6</text>
<text x="634.6" y="384.7" font-size="10.9">eGDR 6−8</text>
<text x="635.3" y="397.1" font-size="10.9">eGDR&gt;8</text>
<text x="552.6" y="470.3" font-size="10.8" text-anchor="middle">10</text>
<text x="597.6" y="470.3" font-size="10.8" text-anchor="middle">100</text>
<text x="577.2" y="483.9" font-size="10.8" text-anchor="middle">+1 µg/ml CRP-XL</text>
<line x1="538.9" y1="487.8" x2="615.1" y2="487.8" stroke="#000" stroke-width="1.2" stroke-linecap="butt"/>
<rect x="535.88" y="587.12" width="6.45" height="15.27" fill="#636363" stroke="#000" stroke-width="1.05"/>
<rect x="546.77" y="576.42" width="6.45" height="25.98" fill="#aaaaaa" stroke="#000" stroke-width="1.05"/>
<rect x="558.17" y="575.73" width="6.45" height="26.67" fill="#ebebeb" stroke="#000" stroke-width="1.05"/>
<rect x="576.67" y="562.92" width="6.45" height="39.48" fill="#636363" stroke="#000" stroke-width="1.05"/>
<rect x="587.67" y="554.23" width="6.45" height="48.17" fill="#aaaaaa" stroke="#000" stroke-width="1.05"/>
<rect x="598.98" y="538.12" width="6.45" height="64.27" fill="#ebebeb" stroke="#000" stroke-width="1.05"/>
<line x1="539.1" y1="586.6" x2="539.1" y2="601.4" stroke="#8a8a8a" stroke-width="0.7" stroke-linecap="butt"/>
<line x1="539.1" y1="571.6" x2="539.1" y2="586.6" stroke="#222" stroke-width="0.7" stroke-linecap="butt"/>
<line x1="536.7" y1="571.6" x2="541.5" y2="571.6" stroke="#222" stroke-width="0.7" stroke-linecap="butt"/>
<line x1="550" y1="575.9" x2="550" y2="589.4" stroke="#d8d8d8" stroke-width="0.7" stroke-linecap="butt"/>
<line x1="547.6" y1="589.4" x2="552.4" y2="589.4" stroke="#d8d8d8" stroke-width="0.7" stroke-linecap="butt"/>
<line x1="550" y1="562.4" x2="550" y2="575.9" stroke="#222" stroke-width="0.7" stroke-linecap="butt"/>
<line x1="547.6" y1="562.4" x2="552.4" y2="562.4" stroke="#222" stroke-width="0.7" stroke-linecap="butt"/>
<line x1="561.4" y1="575.2" x2="561.4" y2="593.2" stroke="#ffffff" stroke-width="0.7" stroke-linecap="butt"/>
<line x1="559" y1="593.2" x2="563.8" y2="593.2" stroke="#ffffff" stroke-width="0.7" stroke-linecap="butt"/>
<line x1="561.4" y1="557.2" x2="561.4" y2="575.2" stroke="#222" stroke-width="0.7" stroke-linecap="butt"/>
<line x1="559" y1="557.2" x2="563.8" y2="557.2" stroke="#222" stroke-width="0.7" stroke-linecap="butt"/>
<line x1="579.9" y1="562.4" x2="579.9" y2="577.2" stroke="#8a8a8a" stroke-width="0.7" stroke-linecap="butt"/>
<line x1="577.5" y1="577.2" x2="582.3" y2="577.2" stroke="#8a8a8a" stroke-width="0.7" stroke-linecap="butt"/>
<line x1="579.9" y1="547.6" x2="579.9" y2="562.4" stroke="#222" stroke-width="0.7" stroke-linecap="butt"/>
<line x1="577.5" y1="547.6" x2="582.3" y2="547.6" stroke="#222" stroke-width="0.7" stroke-linecap="butt"/>
<line x1="590.9" y1="553.7" x2="590.9" y2="565.1" stroke="#d8d8d8" stroke-width="0.7" stroke-linecap="butt"/>
<line x1="588.5" y1="565.1" x2="593.3" y2="565.1" stroke="#d8d8d8" stroke-width="0.7" stroke-linecap="butt"/>
<line x1="590.9" y1="542.3" x2="590.9" y2="553.7" stroke="#222" stroke-width="0.7" stroke-linecap="butt"/>
<line x1="588.5" y1="542.3" x2="593.3" y2="542.3" stroke="#222" stroke-width="0.7" stroke-linecap="butt"/>
<line x1="602.2" y1="537.6" x2="602.2" y2="540.8" stroke="#ffffff" stroke-width="0.7" stroke-linecap="butt"/>
<line x1="599.8" y1="540.8" x2="604.6" y2="540.8" stroke="#ffffff" stroke-width="0.7" stroke-linecap="butt"/>
<line x1="602.2" y1="534.4" x2="602.2" y2="537.6" stroke="#222" stroke-width="0.7" stroke-linecap="butt"/>
<line x1="599.8" y1="534.4" x2="604.6" y2="534.4" stroke="#222" stroke-width="0.7" stroke-linecap="butt"/>
<g fill="#000">
<circle cx="539.1" cy="564.2" r="1.55"/>
<circle cx="539.1" cy="570.7" r="1.55"/>
<circle cx="539.1" cy="587.9" r="1.55"/>
<circle cx="539.1" cy="592.2" r="1.55"/>
<circle cx="539.1" cy="595.7" r="1.55"/>
<circle cx="539.1" cy="600.1" r="1.55"/>
<rect x="548.53" y="550.43" width="2.94" height="2.94"/>
<rect x="548.53" y="555.23" width="2.94" height="2.94"/>
<rect x="548.53" y="577.63" width="2.94" height="2.94"/>
<rect x="548.53" y="580.23" width="2.94" height="2.94"/>
<rect x="548.53" y="582.03" width="2.94" height="2.94"/>
<rect x="548.53" y="583.73" width="2.94" height="2.94"/>
<path d="M561.4 534.02L562.95 536.93L559.85 536.93Z"/>
<path d="M561.4 556.12L562.95 559.03L559.85 559.03Z"/>
<path d="M561.4 579.22L562.95 582.13L559.85 582.13Z"/>
<path d="M561.4 581.92L562.95 584.83L559.85 584.83Z"/>
<path d="M561.4 584.52L562.95 587.43L559.85 587.43Z"/>
<path d="M561.4 586.32L562.95 589.23L559.85 589.23Z"/>
<path d="M561.4 588.92L562.95 591.83L559.85 591.83Z"/>
<circle cx="579.9" cy="536.7" r="1.55"/>
<circle cx="579.9" cy="555.4" r="1.55"/>
<circle cx="579.9" cy="560.7" r="1.55"/>
<circle cx="579.9" cy="564.2" r="1.55"/>
<circle cx="579.9" cy="577.3" r="1.55"/>
<circle cx="579.9" cy="581.7" r="1.55"/>
<rect x="591.23" y="538.23" width="2.94" height="2.94"/>
<rect x="587.63" y="539.93" width="2.94" height="2.94"/>
<rect x="589.43" y="546.13" width="2.94" height="2.94"/>
<rect x="589.43" y="549.63" width="2.94" height="2.94"/>
<rect x="589.43" y="553.93" width="2.94" height="2.94"/>
<rect x="589.43" y="555.73" width="2.94" height="2.94"/>
<rect x="589.43" y="578.53" width="2.94" height="2.94"/>
<path d="M602.2 530.22L603.75 533.13L600.65 533.13Z"/>
<path d="M602.2 533.72L603.75 536.63L600.65 536.63Z"/>
<path d="M602.2 536.32L603.75 539.23L600.65 539.23Z"/>
<path d="M602.2 538.92L603.75 541.83L600.65 541.83Z"/>
<path d="M602.2 540.72L603.75 543.63L600.65 543.63Z"/>
<path d="M602.2 543.32L603.75 546.23L600.65 546.23Z"/>
<path d="M602.2 546.02L603.75 548.93L600.65 548.93Z"/>
<path d="M602.2 549.52L603.75 552.43L600.65 552.43Z"/>
</g>
<line x1="532" y1="518.98" x2="532" y2="602.92" stroke="#000" stroke-width="1.05" stroke-linecap="butt"/>
<line x1="531.48" y1="602.4" x2="609.5" y2="602.4" stroke="#000" stroke-width="1.05" stroke-linecap="butt"/>
<line x1="528.38" y1="602.4" x2="532" y2="602.4" stroke="#000" stroke-width="1.05" stroke-linecap="butt"/>
<text x="527.27" y="606.6" font-size="10.8" text-anchor="end">0</text>
<line x1="528.38" y1="585.8" x2="532" y2="585.8" stroke="#000" stroke-width="1.05" stroke-linecap="butt"/>
<text x="527.27" y="590" font-size="10.8" text-anchor="end">20</text>
<line x1="528.38" y1="569.2" x2="532" y2="569.2" stroke="#000" stroke-width="1.05" stroke-linecap="butt"/>
<text x="527.27" y="573.4" font-size="10.8" text-anchor="end">40</text>
<line x1="528.38" y1="552.7" x2="532" y2="552.7" stroke="#000" stroke-width="1.05" stroke-linecap="butt"/>
<text x="527.27" y="556.9" font-size="10.8" text-anchor="end">60</text>
<line x1="528.38" y1="536.1" x2="532" y2="536.1" stroke="#000" stroke-width="1.05" stroke-linecap="butt"/>
<text x="527.27" y="540.3" font-size="10.8" text-anchor="end">80</text>
<line x1="528.38" y1="519.5" x2="532" y2="519.5" stroke="#000" stroke-width="1.05" stroke-linecap="butt"/>
<text x="527.27" y="523.7" font-size="10.8" text-anchor="end">100</text>
<line x1="549.9" y1="602.4" x2="549.9" y2="605.82" stroke="#000" stroke-width="1.05" stroke-linecap="butt"/>
<line x1="590.6" y1="602.4" x2="590.6" y2="605.82" stroke="#000" stroke-width="1.05" stroke-linecap="butt"/>
<path d="M582.7 515.2V512H603.2V515.2" fill="none" stroke="#000" stroke-width="1.3"/>
<text x="593.6" y="515.12" font-size="16" text-anchor="middle" font-weight="bold" stroke="#000" stroke-width="0.35">**</text>
<path d="M590.6 527.9V525.1H602.9V527.9" fill="none" stroke="#000" stroke-width="1.3"/>
<text x="596.7" y="527.72" font-size="16" text-anchor="middle" font-weight="bold" stroke="#000" stroke-width="0.35">*</text>
<text x="498.2" y="559.2" font-size="12.3" text-anchor="middle" transform="rotate(-90 498.2 559.2)">Reduction (%)</text>
<text x="486.4" y="510.4" font-size="18" font-weight="bold">f</text>
<g fill="#000">
<circle cx="628.8" cy="525.3" r="1.7"/>
<rect x="627.18" y="535.38" width="3.23" height="3.23"/>
<path d="M628.8 547.44L630.33 550.32L627.27 550.32Z"/>
</g>
<text x="634.6" y="529.2" font-size="10.9">eGDR&lt;6</text>
<text x="634.6" y="540.9" font-size="10.9">eGDR 6−8</text>
<text x="635.3" y="552.9" font-size="10.9">eGDR&gt;8</text>
<text x="549.9" y="616.3" font-size="10.8" text-anchor="middle">10</text>
<text x="590.6" y="616.3" font-size="10.8" text-anchor="middle">100</text>
<text x="570.2" y="628.4" font-size="10.8" text-anchor="middle">+Dual agonists</text>
<line x1="538.9" y1="632.6" x2="602.9" y2="632.6" stroke="#000" stroke-width="1.05" stroke-linecap="butt"/>
<rect x="114.62" y="868.62" width="7.35" height="29.17" fill="#636363" stroke="#000" stroke-width="1.25"/>
<rect x="127.83" y="888.92" width="7.35" height="8.88" fill="#aaaaaa" stroke="#000" stroke-width="1.25"/>
<rect x="141.12" y="886.52" width="7.35" height="11.27" fill="#ebebeb" stroke="#000" stroke-width="1.25"/>
<rect x="163.22" y="887.73" width="7.35" height="10.07" fill="#636363" stroke="#000" stroke-width="1.25"/>
<rect x="176.92" y="891.42" width="7.35" height="6.38" fill="#aaaaaa" stroke="#000" stroke-width="1.25"/>
<rect x="190.02" y="893.42" width="7.35" height="4.38" fill="#ebebeb" stroke="#000" stroke-width="1.25"/>
<rect x="212.32" y="891.92" width="7.35" height="5.88" fill="#636363" stroke="#000" stroke-width="1.25"/>
<rect x="225.72" y="891.92" width="7.35" height="5.88" fill="#aaaaaa" stroke="#000" stroke-width="1.25"/>
<rect x="238.92" y="893.92" width="7.35" height="3.88" fill="#ebebeb" stroke="#000" stroke-width="1.25"/>
<rect x="261.32" y="776.02" width="7.35" height="121.77" fill="#636363" stroke="#000" stroke-width="1.25"/>
<rect x="274.72" y="804.12" width="7.35" height="93.67" fill="#aaaaaa" stroke="#000" stroke-width="1.25"/>
<rect x="287.82" y="831.42" width="7.35" height="66.38" fill="#ebebeb" stroke="#000" stroke-width="1.25"/>
<rect x="310.32" y="826.92" width="7.35" height="70.88" fill="#636363" stroke="#000" stroke-width="1.25"/>
<rect x="323.52" y="841.83" width="7.35" height="55.97" fill="#aaaaaa" stroke="#000" stroke-width="1.25"/>
<rect x="336.62" y="869.62" width="7.35" height="28.17" fill="#ebebeb" stroke="#000" stroke-width="1.25"/>
<rect x="359.22" y="873.33" width="7.35" height="24.47" fill="#636363" stroke="#000" stroke-width="1.25"/>
<rect x="372.32" y="879.02" width="7.35" height="18.77" fill="#aaaaaa" stroke="#000" stroke-width="1.25"/>
<rect x="385.72" y="890.23" width="7.35" height="7.57" fill="#ebebeb" stroke="#000" stroke-width="1.25"/>
<line x1="118.3" y1="868" x2="118.3" y2="893.6" stroke="#8a8a8a" stroke-width="0.8" stroke-linecap="butt"/>
<line x1="115.1" y1="893.6" x2="121.5" y2="893.6" stroke="#8a8a8a" stroke-width="0.8" stroke-linecap="butt"/>
<line x1="118.3" y1="842.4" x2="118.3" y2="868" stroke="#222" stroke-width="0.8" stroke-linecap="butt"/>
<line x1="115.1" y1="842.4" x2="121.5" y2="842.4" stroke="#222" stroke-width="0.8" stroke-linecap="butt"/>
<line x1="131.5" y1="888.3" x2="131.5" y2="895" stroke="#d8d8d8" stroke-width="0.8" stroke-linecap="butt"/>
<line x1="128.3" y1="895" x2="134.7" y2="895" stroke="#d8d8d8" stroke-width="0.8" stroke-linecap="butt"/>
<line x1="131.5" y1="881.6" x2="131.5" y2="888.3" stroke="#222" stroke-width="0.8" stroke-linecap="butt"/>
<line x1="128.3" y1="881.6" x2="134.7" y2="881.6" stroke="#222" stroke-width="0.8" stroke-linecap="butt"/>
<line x1="144.8" y1="885.9" x2="144.8" y2="896.6" stroke="#ffffff" stroke-width="0.8" stroke-linecap="butt"/>
<line x1="141.6" y1="896.6" x2="148" y2="896.6" stroke="#ffffff" stroke-width="0.8" stroke-linecap="butt"/>
<line x1="144.8" y1="875.2" x2="144.8" y2="885.9" stroke="#222" stroke-width="0.8" stroke-linecap="butt"/>
<line x1="141.6" y1="875.2" x2="148" y2="875.2" stroke="#222" stroke-width="0.8" stroke-linecap="butt"/>
<line x1="166.9" y1="887.1" x2="166.9" y2="896.8" stroke="#8a8a8a" stroke-width="0.8" stroke-linecap="butt"/>
<line x1="166.9" y1="877.2" x2="166.9" y2="887.1" stroke="#222" stroke-width="0.8" stroke-linecap="butt"/>
<line x1="163.7" y1="877.2" x2="170.1" y2="877.2" stroke="#222" stroke-width="0.8" stroke-linecap="butt"/>
<line x1="180.6" y1="890.8" x2="180.6" y2="893.3" stroke="#d8d8d8" stroke-width="0.8" stroke-linecap="butt"/>
<line x1="177.4" y1="893.3" x2="183.8" y2="893.3" stroke="#d8d8d8" stroke-width="0.8" stroke-linecap="butt"/>
<line x1="180.6" y1="888.3" x2="180.6" y2="890.8" stroke="#222" stroke-width="0.8" stroke-linecap="butt"/>
<line x1="177.4" y1="888.3" x2="183.8" y2="888.3" stroke="#222" stroke-width="0.8" stroke-linecap="butt"/>
<line x1="193.7" y1="892.8" x2="193.7" y2="895.8" stroke="#ffffff" stroke-width="0.8" stroke-linecap="butt"/>
<line x1="190.5" y1="895.8" x2="196.9" y2="895.8" stroke="#ffffff" stroke-width="0.8" stroke-linecap="butt"/>
<line x1="193.7" y1="889.8" x2="193.7" y2="892.8" stroke="#222" stroke-width="0.8" stroke-linecap="butt"/>
<line x1="190.5" y1="889.8" x2="196.9" y2="889.8" stroke="#222" stroke-width="0.8" stroke-linecap="butt"/>
<line x1="216" y1="891.3" x2="216" y2="894.8" stroke="#8a8a8a" stroke-width="0.8" stroke-linecap="butt"/>
<line x1="212.8" y1="894.8" x2="219.2" y2="894.8" stroke="#8a8a8a" stroke-width="0.8" stroke-linecap="butt"/>
<line x1="216" y1="887.8" x2="216" y2="891.3" stroke="#222" stroke-width="0.8" stroke-linecap="butt"/>
<line x1="212.8" y1="887.8" x2="219.2" y2="887.8" stroke="#222" stroke-width="0.8" stroke-linecap="butt"/>
<line x1="229.4" y1="891.3" x2="229.4" y2="893.3" stroke="#d8d8d8" stroke-width="0.8" stroke-linecap="butt"/>
<line x1="226.2" y1="893.3" x2="232.6" y2="893.3" stroke="#d8d8d8" stroke-width="0.8" stroke-linecap="butt"/>
<line x1="229.4" y1="889.3" x2="229.4" y2="891.3" stroke="#222" stroke-width="0.8" stroke-linecap="butt"/>
<line x1="226.2" y1="889.3" x2="232.6" y2="889.3" stroke="#222" stroke-width="0.8" stroke-linecap="butt"/>
<line x1="242.6" y1="893.3" x2="242.6" y2="896.3" stroke="#ffffff" stroke-width="0.8" stroke-linecap="butt"/>
<line x1="239.4" y1="896.3" x2="245.8" y2="896.3" stroke="#ffffff" stroke-width="0.8" stroke-linecap="butt"/>
<line x1="242.6" y1="890.3" x2="242.6" y2="893.3" stroke="#222" stroke-width="0.8" stroke-linecap="butt"/>
<line x1="239.4" y1="890.3" x2="245.8" y2="890.3" stroke="#222" stroke-width="0.8" stroke-linecap="butt"/>
<line x1="265" y1="775.4" x2="265" y2="809.4" stroke="#8a8a8a" stroke-width="0.8" stroke-linecap="butt"/>
<line x1="261.8" y1="809.4" x2="268.2" y2="809.4" stroke="#8a8a8a" stroke-width="0.8" stroke-linecap="butt"/>
<line x1="265" y1="741.4" x2="265" y2="775.4" stroke="#222" stroke-width="0.8" stroke-linecap="butt"/>
<line x1="261.8" y1="741.4" x2="268.2" y2="741.4" stroke="#222" stroke-width="0.8" stroke-linecap="butt"/>
<line x1="278.4" y1="803.5" x2="278.4" y2="820.4" stroke="#d8d8d8" stroke-width="0.8" stroke-linecap="butt"/>
<line x1="275.2" y1="820.4" x2="281.6" y2="820.4" stroke="#d8d8d8" stroke-width="0.8" stroke-linecap="butt"/>
<line x1="278.4" y1="786.6" x2="278.4" y2="803.5" stroke="#222" stroke-width="0.8" stroke-linecap="butt"/>
<line x1="275.2" y1="786.6" x2="281.6" y2="786.6" stroke="#222" stroke-width="0.8" stroke-linecap="butt"/>
<line x1="291.5" y1="830.8" x2="291.5" y2="855.2" stroke="#ffffff" stroke-width="0.8" stroke-linecap="butt"/>
<line x1="288.3" y1="855.2" x2="294.7" y2="855.2" stroke="#ffffff" stroke-width="0.8" stroke-linecap="butt"/>
<line x1="291.5" y1="806.4" x2="291.5" y2="830.8" stroke="#222" stroke-width="0.8" stroke-linecap="butt"/>
<line x1="288.3" y1="806.4" x2="294.7" y2="806.4" stroke="#222" stroke-width="0.8" stroke-linecap="butt"/>
<line x1="314" y1="826.3" x2="314" y2="843.7" stroke="#8a8a8a" stroke-width="0.8" stroke-linecap="butt"/>
<line x1="310.8" y1="843.7" x2="317.2" y2="843.7" stroke="#8a8a8a" stroke-width="0.8" stroke-linecap="butt"/>
<line x1="314" y1="808.9" x2="314" y2="826.3" stroke="#222" stroke-width="0.8" stroke-linecap="butt"/>
<line x1="310.8" y1="808.9" x2="317.2" y2="808.9" stroke="#222" stroke-width="0.8" stroke-linecap="butt"/>
<line x1="327.2" y1="841.2" x2="327.2" y2="869" stroke="#d8d8d8" stroke-width="0.8" stroke-linecap="butt"/>
<line x1="324" y1="869" x2="330.4" y2="869" stroke="#d8d8d8" stroke-width="0.8" stroke-linecap="butt"/>
<line x1="327.2" y1="813.4" x2="327.2" y2="841.2" stroke="#222" stroke-width="0.8" stroke-linecap="butt"/>
<line x1="324" y1="813.4" x2="330.4" y2="813.4" stroke="#222" stroke-width="0.8" stroke-linecap="butt"/>
<line x1="340.3" y1="869" x2="340.3" y2="879" stroke="#ffffff" stroke-width="0.8" stroke-linecap="butt"/>
<line x1="337.1" y1="879" x2="343.5" y2="879" stroke="#ffffff" stroke-width="0.8" stroke-linecap="butt"/>
<line x1="340.3" y1="859" x2="340.3" y2="869" stroke="#222" stroke-width="0.8" stroke-linecap="butt"/>
<line x1="337.1" y1="859" x2="343.5" y2="859" stroke="#222" stroke-width="0.8" stroke-linecap="butt"/>
<line x1="362.9" y1="872.7" x2="362.9" y2="883.7" stroke="#8a8a8a" stroke-width="0.8" stroke-linecap="butt"/>
<line x1="359.7" y1="883.7" x2="366.1" y2="883.7" stroke="#8a8a8a" stroke-width="0.8" stroke-linecap="butt"/>
<line x1="362.9" y1="861.7" x2="362.9" y2="872.7" stroke="#222" stroke-width="0.8" stroke-linecap="butt"/>
<line x1="359.7" y1="861.7" x2="366.1" y2="861.7" stroke="#222" stroke-width="0.8" stroke-linecap="butt"/>
<line x1="376" y1="878.4" x2="376" y2="890.4" stroke="#d8d8d8" stroke-width="0.8" stroke-linecap="butt"/>
<line x1="372.8" y1="890.4" x2="379.2" y2="890.4" stroke="#d8d8d8" stroke-width="0.8" stroke-linecap="butt"/>
<line x1="376" y1="866.4" x2="376" y2="878.4" stroke="#222" stroke-width="0.8" stroke-linecap="butt"/>
<line x1="372.8" y1="866.4" x2="379.2" y2="866.4" stroke="#222" stroke-width="0.8" stroke-linecap="butt"/>
<line x1="389.4" y1="889.6" x2="389.4" y2="893.6" stroke="#ffffff" stroke-width="0.8" stroke-linecap="butt"/>
<line x1="386.2" y1="893.6" x2="392.6" y2="893.6" stroke="#ffffff" stroke-width="0.8" stroke-linecap="butt"/>
<line x1="389.4" y1="885.6" x2="389.4" y2="889.6" stroke="#222" stroke-width="0.8" stroke-linecap="butt"/>
<line x1="386.2" y1="885.6" x2="392.6" y2="885.6" stroke="#222" stroke-width="0.8" stroke-linecap="butt"/>
<g fill="#000">
<circle cx="67.7" cy="891.8" r="3.1"/>
<circle cx="69.3" cy="893.2" r="3.1"/>
<circle cx="68.1" cy="894.4" r="3.1"/>
<circle cx="69.1" cy="895.4" r="3.1"/>
<rect x="78.36" y="893.25" width="5.89" height="5.89"/>
<rect x="79.66" y="893.85" width="5.89" height="5.89"/>
<path d="M95 893.44L98.1 899.27L91.9 899.27Z"/>
<path d="M96.5 894.04L99.6 899.87L93.4 899.87Z"/>
<circle cx="118.3" cy="828.8" r="3.1"/>
<circle cx="118.3" cy="859.3" r="3.1"/>
<circle cx="118.3" cy="873.5" r="3.1"/>
<circle cx="118.3" cy="887.1" r="3.1"/>
<circle cx="118.3" cy="893.3" r="3.1"/>
<rect x="128.56" y="872.25" width="5.89" height="5.89"/>
<rect x="128.56" y="886.65" width="5.89" height="5.89"/>
<rect x="128.56" y="889.15" width="5.89" height="5.89"/>
<rect x="128.56" y="891.55" width="5.89" height="5.89"/>
<path d="M144.8 860.84L147.9 866.67L141.7 866.67Z"/>
<path d="M144.8 875.24L147.9 881.07L141.7 881.07Z"/>
<path d="M144.8 885.14L147.9 890.97L141.7 890.97Z"/>
<path d="M144.8 888.94L147.9 894.77L141.7 894.77Z"/>
<path d="M144.8 891.34L147.9 897.17L141.7 897.17Z"/>
<circle cx="166.9" cy="869.7" r="3.1"/>
<circle cx="166.9" cy="890.5" r="3.1"/>
<circle cx="166.9" cy="893.5" r="3.1"/>
<rect x="177.66" y="887.35" width="5.89" height="5.89"/>
<rect x="177.66" y="889.45" width="5.89" height="5.89"/>
<rect x="177.66" y="890.85" width="5.89" height="5.89"/>
<rect x="177.66" y="891.65" width="5.89" height="5.89"/>
<path d="M193.7 882.74L196.8 888.57L190.6 888.57Z"/>
<path d="M193.7 886.44L196.8 892.27L190.6 892.27Z"/>
<path d="M193.7 890.14L196.8 895.97L190.6 895.97Z"/>
<path d="M193.7 891.34L196.8 897.17L190.6 897.17Z"/>
<circle cx="216" cy="886.4" r="3.1"/>
<circle cx="216" cy="891.5" r="3.1"/>
<circle cx="216" cy="893.5" r="3.1"/>
<circle cx="216" cy="894.5" r="3.1"/>
<rect x="226.46" y="887.55" width="5.89" height="5.89"/>
<rect x="226.46" y="889.55" width="5.89" height="5.89"/>
<rect x="226.46" y="890.85" width="5.89" height="5.89"/>
<rect x="226.46" y="891.65" width="5.89" height="5.89"/>
<path d="M242.6 881.94L245.7 887.77L239.5 887.77Z"/>
<path d="M242.6 886.84L245.7 892.67L239.5 892.67Z"/>
<path d="M242.6 889.84L245.7 895.67L239.5 895.67Z"/>
<path d="M242.6 891.44L245.7 897.27L239.5 897.27Z"/>
<circle cx="265" cy="716.6" r="3.1"/>
<circle cx="265" cy="745.6" r="3.1"/>
<circle cx="263.2" cy="775.4" r="3.1"/>
<circle cx="266.8" cy="775.4" r="3.1"/>
<circle cx="265" cy="797.3" r="3.1"/>
<circle cx="265" cy="804" r="3.1"/>
<circle cx="265" cy="806.4" r="3.1"/>
<rect x="275.45" y="775.65" width="5.89" height="5.89"/>
<rect x="273.85" y="788.55" width="5.89" height="5.89"/>
<rect x="277.25" y="793.05" width="5.89" height="5.89"/>
<rect x="275.45" y="808.45" width="5.89" height="5.89"/>
<rect x="275.45" y="814.65" width="5.89" height="5.89"/>
<rect x="275.45" y="819.65" width="5.89" height="5.89"/>
<path d="M291.5 799.54L294.6 805.37L288.4 805.37Z"/>
<path d="M291.5 803.24L294.6 809.07L288.4 809.07Z"/>
<path d="M291.5 807.74L294.6 813.57L288.4 813.57Z"/>
<path d="M291.5 828.14L294.6 833.97L288.4 833.97Z"/>
<path d="M291.5 843.04L294.6 848.87L288.4 848.87Z"/>
<path d="M291.5 847.94L294.6 853.77L288.4 853.77Z"/>
<path d="M291.5 852.94L294.6 858.77L288.4 858.77Z"/>
<path d="M291.5 857.84L294.6 863.67L288.4 863.67Z"/>
<circle cx="312.4" cy="798.5" r="3.1"/>
<circle cx="315.6" cy="804" r="3.1"/>
<circle cx="312.2" cy="811.4" r="3.1"/>
<circle cx="315.8" cy="811.4" r="3.1"/>
<circle cx="314" cy="831.3" r="3.1"/>
<circle cx="314" cy="857.3" r="3.1"/>
<circle cx="314" cy="868.5" r="3.1"/>
<rect x="324.25" y="801.05" width="5.89" height="5.89"/>
<rect x="322.75" y="817.15" width="5.89" height="5.89"/>
<rect x="325.75" y="817.15" width="5.89" height="5.89"/>
<rect x="324.25" y="840.75" width="5.89" height="5.89"/>
<rect x="324.25" y="845.65" width="5.89" height="5.89"/>
<rect x="324.25" y="871.75" width="5.89" height="5.89"/>
<rect x="324.25" y="874.95" width="5.89" height="5.89"/>
<path d="M340.3 841.74L343.4 847.57L337.2 847.57Z"/>
<path d="M340.3 852.94L343.4 858.77L337.2 858.77Z"/>
<path d="M340.3 862.84L343.4 868.67L337.2 868.67Z"/>
<path d="M340.3 867.84L343.4 873.67L337.2 873.67Z"/>
<path d="M340.3 870.34L343.4 876.17L337.2 876.17Z"/>
<path d="M340.3 875.24L343.4 881.07L337.2 881.07Z"/>
<path d="M340.3 881.44L343.4 887.27L337.2 887.27Z"/>
<circle cx="362.9" cy="846.2" r="3.1"/>
<circle cx="362.9" cy="858.6" r="3.1"/>
<circle cx="362.9" cy="869.7" r="3.1"/>
<circle cx="362.9" cy="878.4" r="3.1"/>
<circle cx="362.9" cy="884.6" r="3.1"/>
<circle cx="362.9" cy="892.1" r="3.1"/>
<rect x="373.06" y="858.85" width="5.89" height="5.89"/>
<rect x="373.06" y="876.75" width="5.89" height="5.89"/>
<rect x="373.06" y="881.65" width="5.89" height="5.89"/>
<rect x="373.06" y="885.35" width="5.89" height="5.89"/>
<rect x="373.06" y="890.35" width="5.89" height="5.89"/>
<path d="M389.4 878.94L392.5 884.77L386.3 884.77Z"/>
<path d="M389.4 881.44L392.5 887.27L386.3 887.27Z"/>
<path d="M389.4 883.94L392.5 889.77L386.3 889.77Z"/>
<path d="M389.4 887.64L392.5 893.47L386.3 893.47Z"/>
<path d="M389.4 890.14L392.5 895.97L386.3 895.97Z"/>
</g>
<line x1="60" y1="688.9" x2="60" y2="898.7" stroke="#000" stroke-width="1.8" stroke-linecap="butt"/>
<line x1="59.1" y1="897.8" x2="397.5" y2="897.8" stroke="#000" stroke-width="1.8" stroke-linecap="butt"/>
<line x1="53.3" y1="897.8" x2="60" y2="897.8" stroke="#000" stroke-width="1.8" stroke-linecap="butt"/>
<text x="52.4" y="901.7" font-size="10.8" text-anchor="end">0</text>
<line x1="53.3" y1="828.5" x2="60" y2="828.5" stroke="#000" stroke-width="1.8" stroke-linecap="butt"/>
<text x="52.4" y="832.4" font-size="10.8" text-anchor="end">20,000</text>
<line x1="53.3" y1="759.1" x2="60" y2="759.1" stroke="#000" stroke-width="1.8" stroke-linecap="butt"/>
<text x="52.4" y="763" font-size="10.8" text-anchor="end">40,000</text>
<line x1="53.3" y1="689.8" x2="60" y2="689.8" stroke="#000" stroke-width="1.8" stroke-linecap="butt"/>
<text x="52.4" y="693.7" font-size="10.8" text-anchor="end">60,000</text>
<line x1="81.9" y1="897.8" x2="81.9" y2="903.9" stroke="#000" stroke-width="1.8" stroke-linecap="butt"/>
<line x1="131.5" y1="897.8" x2="131.5" y2="903.9" stroke="#000" stroke-width="1.8" stroke-linecap="butt"/>
<line x1="180.3" y1="897.8" x2="180.3" y2="903.9" stroke="#000" stroke-width="1.8" stroke-linecap="butt"/>
<line x1="229.2" y1="897.8" x2="229.2" y2="903.9" stroke="#000" stroke-width="1.8" stroke-linecap="butt"/>
<line x1="278.2" y1="897.8" x2="278.2" y2="903.9" stroke="#000" stroke-width="1.8" stroke-linecap="butt"/>
<line x1="326.9" y1="897.8" x2="326.9" y2="903.9" stroke="#000" stroke-width="1.8" stroke-linecap="butt"/>
<line x1="375.8" y1="897.8" x2="375.8" y2="903.9" stroke="#000" stroke-width="1.8" stroke-linecap="butt"/>
<path d="M67.5 872.7V868.5H91.1V872.7" fill="none" stroke="#000" stroke-width="1.6"/>
<text x="79.4" y="870.12" font-size="16" text-anchor="middle" font-weight="bold" stroke="#000" stroke-width="0.35">**</text>
<path d="M67.5 884.6V880.2H83.1V884.6" fill="none" stroke="#000" stroke-width="1.6"/>
<text x="75.7" y="883.32" font-size="16" text-anchor="middle" font-weight="bold" stroke="#000" stroke-width="0.35">**</text>
<path d="M262.9 697.7V693H292.6V697.7" fill="none" stroke="#000" stroke-width="1.6"/>
<text x="278.5" y="695.92" font-size="16" text-anchor="middle" font-weight="bold" stroke="#000" stroke-width="0.35">**</text>
<path d="M264.1 711.6V707.2H280.2V711.6" fill="none" stroke="#000" stroke-width="1.6"/>
<text x="272.3" y="709.62" font-size="16" text-anchor="middle" font-weight="bold" stroke="#000" stroke-width="0.35">**</text>
<path d="M312.8 780.9V776.2H338.4V780.9" fill="none" stroke="#000" stroke-width="1.6"/>
<text x="326.5" y="778.62" font-size="16" text-anchor="middle" font-weight="bold" stroke="#000" stroke-width="0.35">**</text>
<path d="M326.7 796V791.5H338.9V796" fill="none" stroke="#000" stroke-width="1.6"/>
<text x="332.9" y="794.42" font-size="16" text-anchor="middle" font-weight="bold" stroke="#000" stroke-width="0.35">*</text>
<path d="M362 835.7V831.3H388.5V835.7" fill="none" stroke="#000" stroke-width="1.6"/>
<text x="375.1" y="833.72" font-size="16" text-anchor="middle" font-weight="bold" stroke="#000" stroke-width="0.35">*</text>
<text x="10.4" y="793" font-size="12.3" text-anchor="middle" transform="rotate(-90 10.4 793)">MFI (AnnV)</text>
<text x="-0.3" y="677.4" font-size="18" font-weight="bold">g</text>
<g fill="#000">
<circle cx="412.4" cy="684.1" r="3"/>
<rect x="409.55" y="697.55" width="5.7" height="5.7"/>
<path d="M412.4 714.04L415.4 719.68L409.4 719.68Z"/>
</g>
<text x="423.2" y="688" font-size="10.9">eGDR&lt;6</text>
<text x="423.2" y="704.3" font-size="10.9">eGDR 6−8</text>
<text x="423.9" y="721" font-size="10.9">eGDR&gt;8</text>
<text x="85.7" y="906.9" font-size="10.8" text-anchor="end" transform="rotate(-90 85.7 906.9)">Basal</text>
<text x="135.3" y="906.9" font-size="10.8" text-anchor="end" transform="rotate(-90 135.3 906.9)">1µg/ml CRP-XL</text>
<text x="184.1" y="906.9" font-size="10.8" text-anchor="end" transform="rotate(-90 184.1 906.9)">10</text>
<text x="233" y="906.9" font-size="10.8" text-anchor="end" transform="rotate(-90 233 906.9)">100</text>
<text x="282" y="906.9" font-size="10.8" text-anchor="end" transform="rotate(-90 282 906.9)">Dual</text>
<text x="330.7" y="906.9" font-size="10.8" text-anchor="end" transform="rotate(-90 330.7 906.9)">10</text>
<text x="379.6" y="906.9" font-size="10.8" text-anchor="end" transform="rotate(-90 379.6 906.9)">100</text>
<text x="213.9" y="939.4" font-size="10.8" text-anchor="middle">+1 µg/ml CRP-XL</text>
<line x1="189.3" y1="946.1" x2="239.7" y2="946.1" stroke="#000" stroke-width="1.5" stroke-linecap="butt"/>
<text x="351.2" y="939.4" font-size="10.8" text-anchor="middle">+Dual agonists</text>
<line x1="313.4" y1="946.1" x2="388.3" y2="946.1" stroke="#000" stroke-width="1.5" stroke-linecap="butt"/>
<rect x="534.98" y="730.62" width="6.45" height="43.98" fill="#636363" stroke="#000" stroke-width="1.05"/>
<rect x="545.98" y="734.82" width="6.45" height="39.78" fill="#aaaaaa" stroke="#000" stroke-width="1.05"/>
<rect x="557.57" y="728.73" width="6.45" height="45.87" fill="#ebebeb" stroke="#000" stroke-width="1.05"/>
<rect x="576.38" y="724.82" width="6.45" height="49.78" fill="#636363" stroke="#000" stroke-width="1.05"/>
<rect x="587.67" y="732.23" width="6.45" height="42.37" fill="#aaaaaa" stroke="#000" stroke-width="1.05"/>
<rect x="598.77" y="723.62" width="6.45" height="50.98" fill="#ebebeb" stroke="#000" stroke-width="1.05"/>
<line x1="538.2" y1="730.1" x2="538.2" y2="745.9" stroke="#8a8a8a" stroke-width="0.7" stroke-linecap="butt"/>
<line x1="535.8" y1="745.9" x2="540.6" y2="745.9" stroke="#8a8a8a" stroke-width="0.7" stroke-linecap="butt"/>
<line x1="538.2" y1="714.3" x2="538.2" y2="730.1" stroke="#222" stroke-width="0.7" stroke-linecap="butt"/>
<line x1="535.8" y1="714.3" x2="540.6" y2="714.3" stroke="#222" stroke-width="0.7" stroke-linecap="butt"/>
<line x1="549.2" y1="734.3" x2="549.2" y2="750.4" stroke="#d8d8d8" stroke-width="0.7" stroke-linecap="butt"/>
<line x1="546.8" y1="750.4" x2="551.6" y2="750.4" stroke="#d8d8d8" stroke-width="0.7" stroke-linecap="butt"/>
<line x1="549.2" y1="718.2" x2="549.2" y2="734.3" stroke="#222" stroke-width="0.7" stroke-linecap="butt"/>
<line x1="546.8" y1="718.2" x2="551.6" y2="718.2" stroke="#222" stroke-width="0.7" stroke-linecap="butt"/>
<line x1="560.8" y1="728.2" x2="560.8" y2="750.5" stroke="#ffffff" stroke-width="0.7" stroke-linecap="butt"/>
<line x1="558.4" y1="750.5" x2="563.2" y2="750.5" stroke="#ffffff" stroke-width="0.7" stroke-linecap="butt"/>
<line x1="560.8" y1="705.9" x2="560.8" y2="728.2" stroke="#222" stroke-width="0.7" stroke-linecap="butt"/>
<line x1="558.4" y1="705.9" x2="563.2" y2="705.9" stroke="#222" stroke-width="0.7" stroke-linecap="butt"/>
<line x1="579.6" y1="724.3" x2="579.6" y2="745.3" stroke="#8a8a8a" stroke-width="0.7" stroke-linecap="butt"/>
<line x1="577.2" y1="745.3" x2="582" y2="745.3" stroke="#8a8a8a" stroke-width="0.7" stroke-linecap="butt"/>
<line x1="579.6" y1="703.3" x2="579.6" y2="724.3" stroke="#222" stroke-width="0.7" stroke-linecap="butt"/>
<line x1="577.2" y1="703.3" x2="582" y2="703.3" stroke="#222" stroke-width="0.7" stroke-linecap="butt"/>
<line x1="590.9" y1="731.7" x2="590.9" y2="748.2" stroke="#d8d8d8" stroke-width="0.7" stroke-linecap="butt"/>
<line x1="588.5" y1="748.2" x2="593.3" y2="748.2" stroke="#d8d8d8" stroke-width="0.7" stroke-linecap="butt"/>
<line x1="590.9" y1="715.2" x2="590.9" y2="731.7" stroke="#222" stroke-width="0.7" stroke-linecap="butt"/>
<line x1="588.5" y1="715.2" x2="593.3" y2="715.2" stroke="#222" stroke-width="0.7" stroke-linecap="butt"/>
<line x1="602" y1="723.1" x2="602" y2="742" stroke="#ffffff" stroke-width="0.7" stroke-linecap="butt"/>
<line x1="599.6" y1="742" x2="604.4" y2="742" stroke="#ffffff" stroke-width="0.7" stroke-linecap="butt"/>
<line x1="602" y1="704.2" x2="602" y2="723.1" stroke="#222" stroke-width="0.7" stroke-linecap="butt"/>
<line x1="599.6" y1="704.2" x2="604.4" y2="704.2" stroke="#222" stroke-width="0.7" stroke-linecap="butt"/>
<g fill="#000">
<circle cx="536.4" cy="714.7" r="1.55"/>
<circle cx="540" cy="716.4" r="1.55"/>
<circle cx="538.2" cy="724.7" r="1.55"/>
<circle cx="538.2" cy="741" r="1.55"/>
<circle cx="538.2" cy="751.5" r="1.55"/>
<rect x="547.73" y="713.73" width="2.94" height="2.94"/>
<rect x="545.93" y="721.93" width="2.94" height="2.94"/>
<rect x="549.53" y="721.93" width="2.94" height="2.94"/>
<rect x="545.93" y="742.43" width="2.94" height="2.94"/>
<rect x="549.53" y="742.43" width="2.94" height="2.94"/>
<rect x="547.73" y="750.03" width="2.94" height="2.94"/>
<path d="M560.8 699.12L562.35 702.03L559.25 702.03Z"/>
<path d="M558.4 704.32L559.95 707.23L556.85 707.23Z"/>
<path d="M563.2 706.12L564.75 709.03L561.65 709.03Z"/>
<path d="M560.8 716.62L562.35 719.53L559.25 719.53Z"/>
<path d="M560.8 735.02L562.35 737.93L559.25 737.93Z"/>
<path d="M559 745.52L560.55 748.43L557.45 748.43Z"/>
<path d="M562.6 745.52L564.15 748.43L561.05 748.43Z"/>
<path d="M560.8 758.62L562.35 761.53L559.25 761.53Z"/>
<circle cx="579.6" cy="705.6" r="1.55"/>
<circle cx="581.4" cy="713.8" r="1.55"/>
<circle cx="577.4" cy="715.9" r="1.55"/>
<circle cx="579.6" cy="725.2" r="1.55"/>
<circle cx="579.6" cy="759.3" r="1.55"/>
<rect x="587.23" y="714.13" width="2.94" height="2.94"/>
<rect x="591.63" y="714.13" width="2.94" height="2.94"/>
<rect x="589.43" y="728.93" width="2.94" height="2.94"/>
<rect x="587.63" y="731.63" width="2.94" height="2.94"/>
<rect x="591.23" y="731.63" width="2.94" height="2.94"/>
<rect x="589.43" y="757.83" width="2.94" height="2.94"/>
<path d="M602 693.82L603.55 696.73L600.45 696.73Z"/>
<path d="M602 700.52L603.55 703.43L600.45 703.43Z"/>
<path d="M602 708.72L603.55 711.63L600.45 711.63Z"/>
<path d="M600.2 722.72L601.75 725.63L598.65 725.63Z"/>
<path d="M603.8 722.72L605.35 725.63L602.25 725.63Z"/>
<path d="M602 735.92L603.55 738.83L600.45 738.83Z"/>
<path d="M602 748.62L603.55 751.53L600.45 751.53Z"/>
</g>
<line x1="530.8" y1="689.58" x2="530.8" y2="775.12" stroke="#000" stroke-width="1.05" stroke-linecap="butt"/>
<line x1="530.27" y1="774.6" x2="609.5" y2="774.6" stroke="#000" stroke-width="1.05" stroke-linecap="butt"/>
<line x1="526.98" y1="774.6" x2="530.8" y2="774.6" stroke="#000" stroke-width="1.05" stroke-linecap="butt"/>
<text x="524.77" y="778.8" font-size="10.8" text-anchor="end">0</text>
<line x1="526.98" y1="757.7" x2="530.8" y2="757.7" stroke="#000" stroke-width="1.05" stroke-linecap="butt"/>
<text x="524.77" y="761.9" font-size="10.8" text-anchor="end">20</text>
<line x1="526.98" y1="740.8" x2="530.8" y2="740.8" stroke="#000" stroke-width="1.05" stroke-linecap="butt"/>
<text x="524.77" y="745" font-size="10.8" text-anchor="end">40</text>
<line x1="526.98" y1="723.9" x2="530.8" y2="723.9" stroke="#000" stroke-width="1.05" stroke-linecap="butt"/>
<text x="524.77" y="728.1" font-size="10.8" text-anchor="end">60</text>
<line x1="526.98" y1="707" x2="530.8" y2="707" stroke="#000" stroke-width="1.05" stroke-linecap="butt"/>
<text x="524.77" y="711.2" font-size="10.8" text-anchor="end">80</text>
<line x1="526.98" y1="690.1" x2="530.8" y2="690.1" stroke="#000" stroke-width="1.05" stroke-linecap="butt"/>
<text x="524.77" y="694.3" font-size="10.8" text-anchor="end">100</text>
<line x1="548.9" y1="774.6" x2="548.9" y2="778.02" stroke="#000" stroke-width="1.05" stroke-linecap="butt"/>
<line x1="590.2" y1="774.6" x2="590.2" y2="778.02" stroke="#000" stroke-width="1.05" stroke-linecap="butt"/>
<text x="496.4" y="730.9" font-size="12.3" text-anchor="middle" transform="rotate(-90 496.4 730.9)">Reduction (%)</text>
<text x="486.6" y="678.6" font-size="18" font-weight="bold">h</text>
<g fill="#000">
<circle cx="628.8" cy="695.3" r="1.7"/>
<rect x="627.18" y="705.59" width="3.23" height="3.23"/>
<path d="M628.8 718.14L630.33 721.02L627.27 721.02Z"/>
</g>
<text x="634.6" y="699.2" font-size="10.9">eGDR&lt;6</text>
<text x="634.6" y="711.1" font-size="10.9">eGDR 6−8</text>
<text x="635.3" y="723.6" font-size="10.9">eGDR&gt;8</text>
<text x="548.9" y="787.7" font-size="10.8" text-anchor="middle">10</text>
<text x="590.2" y="787.7" font-size="10.8" text-anchor="middle">100</text>
<text x="568.9" y="800.6" font-size="10.8" text-anchor="middle">+1 µg/ml CRP-XL</text>
<line x1="533.3" y1="805.5" x2="602.5" y2="805.5" stroke="#000" stroke-width="1.3" stroke-linecap="butt"/>
<rect x="535.98" y="895.82" width="6.45" height="29.48" fill="#636363" stroke="#000" stroke-width="1.05"/>
<rect x="547.38" y="892.02" width="6.45" height="33.27" fill="#aaaaaa" stroke="#000" stroke-width="1.05"/>
<rect x="559.07" y="880.62" width="6.45" height="44.67" fill="#ebebeb" stroke="#000" stroke-width="1.05"/>
<rect x="578.77" y="870.92" width="6.45" height="54.37" fill="#636363" stroke="#000" stroke-width="1.05"/>
<rect x="590.17" y="865.73" width="6.45" height="59.57" fill="#aaaaaa" stroke="#000" stroke-width="1.05"/>
<rect x="601.98" y="853.42" width="6.45" height="71.87" fill="#ebebeb" stroke="#000" stroke-width="1.05"/>
<line x1="539.2" y1="895.3" x2="539.2" y2="910.2" stroke="#8a8a8a" stroke-width="0.7" stroke-linecap="butt"/>
<line x1="536.8" y1="910.2" x2="541.6" y2="910.2" stroke="#8a8a8a" stroke-width="0.7" stroke-linecap="butt"/>
<line x1="539.2" y1="880.4" x2="539.2" y2="895.3" stroke="#222" stroke-width="0.7" stroke-linecap="butt"/>
<line x1="536.8" y1="880.4" x2="541.6" y2="880.4" stroke="#222" stroke-width="0.7" stroke-linecap="butt"/>
<line x1="550.6" y1="891.5" x2="550.6" y2="908.5" stroke="#d8d8d8" stroke-width="0.7" stroke-linecap="butt"/>
<line x1="548.2" y1="908.5" x2="553" y2="908.5" stroke="#d8d8d8" stroke-width="0.7" stroke-linecap="butt"/>
<line x1="550.6" y1="874.5" x2="550.6" y2="891.5" stroke="#222" stroke-width="0.7" stroke-linecap="butt"/>
<line x1="548.2" y1="874.5" x2="553" y2="874.5" stroke="#222" stroke-width="0.7" stroke-linecap="butt"/>
<line x1="562.3" y1="880.1" x2="562.3" y2="895.5" stroke="#ffffff" stroke-width="0.7" stroke-linecap="butt"/>
<line x1="559.9" y1="895.5" x2="564.7" y2="895.5" stroke="#ffffff" stroke-width="0.7" stroke-linecap="butt"/>
<line x1="562.3" y1="864.7" x2="562.3" y2="880.1" stroke="#222" stroke-width="0.7" stroke-linecap="butt"/>
<line x1="559.9" y1="864.7" x2="564.7" y2="864.7" stroke="#222" stroke-width="0.7" stroke-linecap="butt"/>
<line x1="582" y1="870.4" x2="582" y2="876.5" stroke="#8a8a8a" stroke-width="0.7" stroke-linecap="butt"/>
<line x1="579.6" y1="876.5" x2="584.4" y2="876.5" stroke="#8a8a8a" stroke-width="0.7" stroke-linecap="butt"/>
<line x1="582" y1="864.3" x2="582" y2="870.4" stroke="#222" stroke-width="0.7" stroke-linecap="butt"/>
<line x1="579.6" y1="864.3" x2="584.4" y2="864.3" stroke="#222" stroke-width="0.7" stroke-linecap="butt"/>
<line x1="593.4" y1="865.2" x2="593.4" y2="876.6" stroke="#d8d8d8" stroke-width="0.7" stroke-linecap="butt"/>
<line x1="591" y1="876.6" x2="595.8" y2="876.6" stroke="#d8d8d8" stroke-width="0.7" stroke-linecap="butt"/>
<line x1="593.4" y1="853.8" x2="593.4" y2="865.2" stroke="#222" stroke-width="0.7" stroke-linecap="butt"/>
<line x1="591" y1="853.8" x2="595.8" y2="853.8" stroke="#222" stroke-width="0.7" stroke-linecap="butt"/>
<line x1="605.2" y1="852.9" x2="605.2" y2="859.9" stroke="#ffffff" stroke-width="0.7" stroke-linecap="butt"/>
<line x1="602.8" y1="859.9" x2="607.6" y2="859.9" stroke="#ffffff" stroke-width="0.7" stroke-linecap="butt"/>
<line x1="605.2" y1="845.9" x2="605.2" y2="852.9" stroke="#222" stroke-width="0.7" stroke-linecap="butt"/>
<line x1="602.8" y1="845.9" x2="607.6" y2="845.9" stroke="#222" stroke-width="0.7" stroke-linecap="butt"/>
<g fill="#000">
<circle cx="537.4" cy="878.9" r="1.6"/>
<circle cx="541.4" cy="880.6" r="1.6"/>
<circle cx="537.6" cy="883.2" r="1.6"/>
<circle cx="539.2" cy="899.3" r="1.6"/>
<circle cx="539.2" cy="906.7" r="1.6"/>
<circle cx="539.2" cy="918.1" r="1.6"/>
<rect x="549.08" y="864.18" width="3.04" height="3.04"/>
<rect x="550.88" y="876.48" width="3.04" height="3.04"/>
<rect x="547.88" y="878.58" width="3.04" height="3.04"/>
<rect x="549.08" y="895.58" width="3.04" height="3.04"/>
<rect x="547.28" y="903.98" width="3.04" height="3.04"/>
<rect x="550.88" y="903.98" width="3.04" height="3.04"/>
<rect x="549.08" y="905.18" width="3.04" height="3.04"/>
<path d="M562.3 849.87L563.9 852.88L560.7 852.88Z"/>
<path d="M562.3 861.47L563.9 864.48L560.7 864.48Z"/>
<path d="M560.3 874.97L561.9 877.98L558.7 877.98Z"/>
<path d="M564.3 877.57L565.9 880.58L562.7 880.58Z"/>
<path d="M562.3 884.57L563.9 887.58L560.7 887.58Z"/>
<path d="M562.3 888.97L563.9 891.98L560.7 891.98Z"/>
<path d="M560.5 892.47L562.1 895.48L558.9 895.48Z"/>
<path d="M564.1 892.47L565.7 895.48L562.5 895.48Z"/>
<path d="M562.3 895.47L563.9 898.48L560.7 898.48Z"/>
<circle cx="583.8" cy="858.7" r="1.6"/>
<circle cx="580.6" cy="861.2" r="1.6"/>
<circle cx="582" cy="870.4" r="1.6"/>
<circle cx="580.2" cy="873.1" r="1.6"/>
<circle cx="583.8" cy="873.1" r="1.6"/>
<circle cx="582" cy="875.7" r="1.6"/>
<circle cx="582" cy="879.7" r="1.6"/>
<rect x="589.68" y="850.18" width="3.04" height="3.04"/>
<rect x="594.08" y="850.18" width="3.04" height="3.04"/>
<rect x="591.88" y="854.88" width="3.04" height="3.04"/>
<rect x="591.88" y="864.58" width="3.04" height="3.04"/>
<rect x="590.08" y="868.08" width="3.04" height="3.04"/>
<rect x="593.68" y="868.08" width="3.04" height="3.04"/>
<rect x="591.88" y="887.28" width="3.04" height="3.04"/>
<path d="M603.7 843.37L605.3 846.38L602.1 846.38Z"/>
<path d="M606.7 843.37L608.3 846.38L605.1 846.38Z"/>
<path d="M603.4 845.17L605 848.18L601.8 848.18Z"/>
<path d="M607 845.17L608.6 848.18L605.4 848.18Z"/>
<path d="M603.4 846.87L605 849.88L601.8 849.88Z"/>
<path d="M607 846.87L608.6 849.88L605.4 849.88Z"/>
<path d="M605.2 860.07L606.8 863.08L603.6 863.08Z"/>
<path d="M605.2 863.57L606.8 866.58L603.6 866.58Z"/>
<path d="M605.2 866.17L606.8 869.18L603.6 869.18Z"/>
</g>
<line x1="531.6" y1="838.08" x2="531.6" y2="925.82" stroke="#000" stroke-width="1.05" stroke-linecap="butt"/>
<line x1="531.08" y1="925.3" x2="612.5" y2="925.3" stroke="#000" stroke-width="1.05" stroke-linecap="butt"/>
<line x1="527.48" y1="925.3" x2="531.6" y2="925.3" stroke="#000" stroke-width="1.05" stroke-linecap="butt"/>
<text x="524.77" y="929.5" font-size="10.8" text-anchor="end">0</text>
<line x1="527.48" y1="908" x2="531.6" y2="908" stroke="#000" stroke-width="1.05" stroke-linecap="butt"/>
<text x="524.77" y="912.2" font-size="10.8" text-anchor="end">20</text>
<line x1="527.48" y1="890.6" x2="531.6" y2="890.6" stroke="#000" stroke-width="1.05" stroke-linecap="butt"/>
<text x="524.77" y="894.8" font-size="10.8" text-anchor="end">40</text>
<line x1="527.48" y1="873.3" x2="531.6" y2="873.3" stroke="#000" stroke-width="1.05" stroke-linecap="butt"/>
<text x="524.77" y="877.5" font-size="10.8" text-anchor="end">60</text>
<line x1="527.48" y1="855.9" x2="531.6" y2="855.9" stroke="#000" stroke-width="1.05" stroke-linecap="butt"/>
<text x="524.77" y="860.1" font-size="10.8" text-anchor="end">80</text>
<line x1="527.48" y1="838.6" x2="531.6" y2="838.6" stroke="#000" stroke-width="1.05" stroke-linecap="butt"/>
<text x="524.77" y="842.8" font-size="10.8" text-anchor="end">100</text>
<line x1="550.6" y1="925.3" x2="550.6" y2="928.72" stroke="#000" stroke-width="1.05" stroke-linecap="butt"/>
<line x1="593.2" y1="925.3" x2="593.2" y2="928.72" stroke="#000" stroke-width="1.05" stroke-linecap="butt"/>
<path d="M539.4 834.5V830.7H562V834.5" fill="none" stroke="#000" stroke-width="1.3"/>
<text x="550.6" y="833.12" font-size="16" text-anchor="middle" font-weight="bold" stroke="#000" stroke-width="0.35">*</text>
<path d="M550.3 845.6V841.5H562V845.6" fill="none" stroke="#000" stroke-width="1.3"/>
<text x="555.9" y="844.52" font-size="16" text-anchor="middle" font-weight="bold" stroke="#000" stroke-width="0.35">*</text>
<path d="M583.2 828.9V824.9H605.8V828.9" fill="none" stroke="#000" stroke-width="1.3"/>
<text x="594.4" y="827.02" font-size="16" text-anchor="middle" font-weight="bold" stroke="#000" stroke-width="0.35">**</text>
<path d="M594.6 839.8V835.9H605.8V839.8" fill="none" stroke="#000" stroke-width="1.3"/>
<text x="600.2" y="838.32" font-size="16" text-anchor="middle" font-weight="bold" stroke="#000" stroke-width="0.35">*</text>
<text x="496.4" y="882.7" font-size="12.3" text-anchor="middle" transform="rotate(-90 496.4 882.7)">Reduction (%)</text>
<text x="488.4" y="828" font-size="18" font-weight="bold">i</text>
<g fill="#000">
<circle cx="628.8" cy="845.3" r="1.7"/>
<rect x="627.18" y="856.09" width="3.23" height="3.23"/>
<path d="M628.8 868.34L630.33 871.22L627.27 871.22Z"/>
</g>
<text x="634.6" y="849.2" font-size="10.9">eGDR&lt;6</text>
<text x="634.6" y="861.6" font-size="10.9">eGDR 6−8</text>
<text x="635.3" y="873.8" font-size="10.9">eGDR&gt;8</text>
<text x="550.6" y="938.6" font-size="10.8" text-anchor="middle">10</text>
<text x="593.2" y="938.6" font-size="10.8" text-anchor="middle">100</text>
<text x="573.6" y="951.9" font-size="10.8" text-anchor="middle">+Dual agonists</text>
<line x1="546.8" y1="956.9" x2="606.4" y2="956.9" stroke="#000" stroke-width="1.05" stroke-linecap="butt"/>
</svg>
</body></html>
